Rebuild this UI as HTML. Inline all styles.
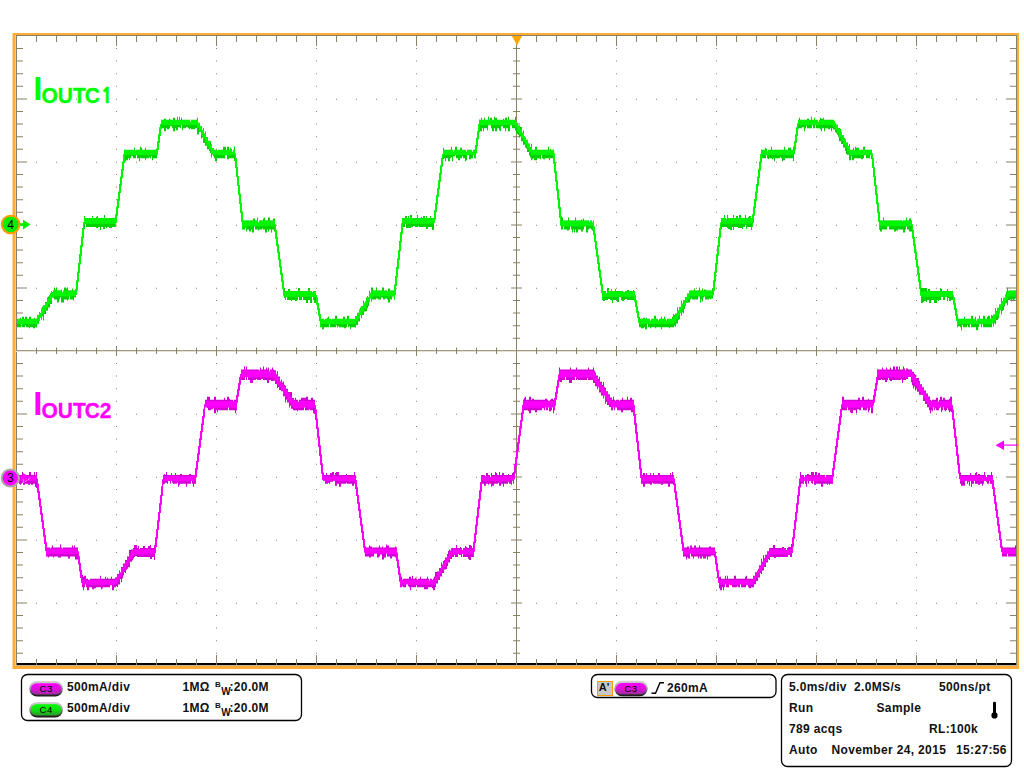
<!DOCTYPE html>
<html><head><meta charset="utf-8"><title>Oscilloscope</title>
<style>
html,body{margin:0;padding:0;background:#fff;width:1024px;height:768px;overflow:hidden}
svg{display:block}
text{font-family:"Liberation Sans",Arial,sans-serif}
.b{font-weight:bold;font-size:12px;fill:#111;letter-spacing:0.35px}
</style></head><body>
<svg width="1024" height="768" viewBox="0 0 1024 768">
<defs>
<linearGradient id="ring" x1="0" y1="0" x2="0" y2="1">
<stop offset="0" stop-color="#d8d8d8"/><stop offset="0.45" stop-color="#9a9a9a"/><stop offset="1" stop-color="#111"/>
</linearGradient>
<linearGradient id="mg" x1="0" y1="0" x2="0" y2="1">
<stop offset="0" stop-color="#ff00ff"/><stop offset="0.5" stop-color="#e010e0"/><stop offset="1" stop-color="#a02aa0"/>
</linearGradient>
<linearGradient id="gg" x1="0" y1="0" x2="0" y2="1">
<stop offset="0" stop-color="#00ff00"/><stop offset="0.5" stop-color="#10e010"/><stop offset="1" stop-color="#2a9a2a"/>
</linearGradient>
</defs>
<rect width="1024" height="768" fill="#fff"/>
<!-- orange frame -->
<g fill="#ffab38">
<rect x="12" y="33" width="1007" height="2"/>
<rect x="12" y="33" width="4" height="636"/>
<rect x="1017" y="33" width="2" height="636"/>
<rect x="12" y="666" width="1007" height="3"/>
</g>
<rect x="12" y="33" width="1" height="636" fill="#ffd699"/>
<rect x="15" y="35" width="1" height="631" fill="#ffc87a"/>
<!-- black bottom strip -->
<rect x="17" y="663" width="999" height="2" fill="#000"/>
<!-- graticule -->
<g fill="#8a8266">
<rect x="16" y="35" width="1001" height="1"/>
<rect x="16" y="35" width="1" height="631"/>
<rect x="1016" y="35" width="1" height="631"/>
<rect x="16" y="665" width="1001" height="1" fill="#c9b48e"/>
<rect x="16" y="350" width="1000" height="1" fill="#a49b84"/>
<rect x="16" y="351" width="1000" height="1" fill="#e4e0d6"/>
<rect x="516" y="35" width="1" height="630"/>
<path d="M36 98.7h1v1h-1zM56 98.7h1v1h-1zM76 98.7h1v1h-1zM96 98.7h1v1h-1zM116 98.7h1v1h-1zM136 98.7h1v1h-1zM156 98.7h1v1h-1zM176 98.7h1v1h-1zM196 98.7h1v1h-1zM216 98.7h1v1h-1zM236 98.7h1v1h-1zM256 98.7h1v1h-1zM276 98.7h1v1h-1zM296 98.7h1v1h-1zM316 98.7h1v1h-1zM336 98.7h1v1h-1zM356 98.7h1v1h-1zM376 98.7h1v1h-1zM396 98.7h1v1h-1zM416 98.7h1v1h-1zM436 98.7h1v1h-1zM456 98.7h1v1h-1zM476 98.7h1v1h-1zM496 98.7h1v1h-1zM516 98.7h1v1h-1zM536 98.7h1v1h-1zM556 98.7h1v1h-1zM576 98.7h1v1h-1zM596 98.7h1v1h-1zM616 98.7h1v1h-1zM636 98.7h1v1h-1zM656 98.7h1v1h-1zM676 98.7h1v1h-1zM696 98.7h1v1h-1zM716 98.7h1v1h-1zM736 98.7h1v1h-1zM756 98.7h1v1h-1zM776 98.7h1v1h-1zM796 98.7h1v1h-1zM816 98.7h1v1h-1zM836 98.7h1v1h-1zM856 98.7h1v1h-1zM876 98.7h1v1h-1zM896 98.7h1v1h-1zM916 98.7h1v1h-1zM936 98.7h1v1h-1zM956 98.7h1v1h-1zM976 98.7h1v1h-1zM996 98.7h1v1h-1zM36 161.7h1v1h-1zM56 161.7h1v1h-1zM76 161.7h1v1h-1zM96 161.7h1v1h-1zM116 161.7h1v1h-1zM136 161.7h1v1h-1zM156 161.7h1v1h-1zM176 161.7h1v1h-1zM196 161.7h1v1h-1zM216 161.7h1v1h-1zM236 161.7h1v1h-1zM256 161.7h1v1h-1zM276 161.7h1v1h-1zM296 161.7h1v1h-1zM316 161.7h1v1h-1zM336 161.7h1v1h-1zM356 161.7h1v1h-1zM376 161.7h1v1h-1zM396 161.7h1v1h-1zM416 161.7h1v1h-1zM436 161.7h1v1h-1zM456 161.7h1v1h-1zM476 161.7h1v1h-1zM496 161.7h1v1h-1zM516 161.7h1v1h-1zM536 161.7h1v1h-1zM556 161.7h1v1h-1zM576 161.7h1v1h-1zM596 161.7h1v1h-1zM616 161.7h1v1h-1zM636 161.7h1v1h-1zM656 161.7h1v1h-1zM676 161.7h1v1h-1zM696 161.7h1v1h-1zM716 161.7h1v1h-1zM736 161.7h1v1h-1zM756 161.7h1v1h-1zM776 161.7h1v1h-1zM796 161.7h1v1h-1zM816 161.7h1v1h-1zM836 161.7h1v1h-1zM856 161.7h1v1h-1zM876 161.7h1v1h-1zM896 161.7h1v1h-1zM916 161.7h1v1h-1zM936 161.7h1v1h-1zM956 161.7h1v1h-1zM976 161.7h1v1h-1zM996 161.7h1v1h-1zM36 224.7h1v1h-1zM56 224.7h1v1h-1zM76 224.7h1v1h-1zM96 224.7h1v1h-1zM116 224.7h1v1h-1zM136 224.7h1v1h-1zM156 224.7h1v1h-1zM176 224.7h1v1h-1zM196 224.7h1v1h-1zM216 224.7h1v1h-1zM236 224.7h1v1h-1zM256 224.7h1v1h-1zM276 224.7h1v1h-1zM296 224.7h1v1h-1zM316 224.7h1v1h-1zM336 224.7h1v1h-1zM356 224.7h1v1h-1zM376 224.7h1v1h-1zM396 224.7h1v1h-1zM416 224.7h1v1h-1zM436 224.7h1v1h-1zM456 224.7h1v1h-1zM476 224.7h1v1h-1zM496 224.7h1v1h-1zM516 224.7h1v1h-1zM536 224.7h1v1h-1zM556 224.7h1v1h-1zM576 224.7h1v1h-1zM596 224.7h1v1h-1zM616 224.7h1v1h-1zM636 224.7h1v1h-1zM656 224.7h1v1h-1zM676 224.7h1v1h-1zM696 224.7h1v1h-1zM716 224.7h1v1h-1zM736 224.7h1v1h-1zM756 224.7h1v1h-1zM776 224.7h1v1h-1zM796 224.7h1v1h-1zM816 224.7h1v1h-1zM836 224.7h1v1h-1zM856 224.7h1v1h-1zM876 224.7h1v1h-1zM896 224.7h1v1h-1zM916 224.7h1v1h-1zM936 224.7h1v1h-1zM956 224.7h1v1h-1zM976 224.7h1v1h-1zM996 224.7h1v1h-1zM36 287.7h1v1h-1zM56 287.7h1v1h-1zM76 287.7h1v1h-1zM96 287.7h1v1h-1zM116 287.7h1v1h-1zM136 287.7h1v1h-1zM156 287.7h1v1h-1zM176 287.7h1v1h-1zM196 287.7h1v1h-1zM216 287.7h1v1h-1zM236 287.7h1v1h-1zM256 287.7h1v1h-1zM276 287.7h1v1h-1zM296 287.7h1v1h-1zM316 287.7h1v1h-1zM336 287.7h1v1h-1zM356 287.7h1v1h-1zM376 287.7h1v1h-1zM396 287.7h1v1h-1zM416 287.7h1v1h-1zM436 287.7h1v1h-1zM456 287.7h1v1h-1zM476 287.7h1v1h-1zM496 287.7h1v1h-1zM516 287.7h1v1h-1zM536 287.7h1v1h-1zM556 287.7h1v1h-1zM576 287.7h1v1h-1zM596 287.7h1v1h-1zM616 287.7h1v1h-1zM636 287.7h1v1h-1zM656 287.7h1v1h-1zM676 287.7h1v1h-1zM696 287.7h1v1h-1zM716 287.7h1v1h-1zM736 287.7h1v1h-1zM756 287.7h1v1h-1zM776 287.7h1v1h-1zM796 287.7h1v1h-1zM816 287.7h1v1h-1zM836 287.7h1v1h-1zM856 287.7h1v1h-1zM876 287.7h1v1h-1zM896 287.7h1v1h-1zM916 287.7h1v1h-1zM936 287.7h1v1h-1zM956 287.7h1v1h-1zM976 287.7h1v1h-1zM996 287.7h1v1h-1zM36 413.7h1v1h-1zM56 413.7h1v1h-1zM76 413.7h1v1h-1zM96 413.7h1v1h-1zM116 413.7h1v1h-1zM136 413.7h1v1h-1zM156 413.7h1v1h-1zM176 413.7h1v1h-1zM196 413.7h1v1h-1zM216 413.7h1v1h-1zM236 413.7h1v1h-1zM256 413.7h1v1h-1zM276 413.7h1v1h-1zM296 413.7h1v1h-1zM316 413.7h1v1h-1zM336 413.7h1v1h-1zM356 413.7h1v1h-1zM376 413.7h1v1h-1zM396 413.7h1v1h-1zM416 413.7h1v1h-1zM436 413.7h1v1h-1zM456 413.7h1v1h-1zM476 413.7h1v1h-1zM496 413.7h1v1h-1zM516 413.7h1v1h-1zM536 413.7h1v1h-1zM556 413.7h1v1h-1zM576 413.7h1v1h-1zM596 413.7h1v1h-1zM616 413.7h1v1h-1zM636 413.7h1v1h-1zM656 413.7h1v1h-1zM676 413.7h1v1h-1zM696 413.7h1v1h-1zM716 413.7h1v1h-1zM736 413.7h1v1h-1zM756 413.7h1v1h-1zM776 413.7h1v1h-1zM796 413.7h1v1h-1zM816 413.7h1v1h-1zM836 413.7h1v1h-1zM856 413.7h1v1h-1zM876 413.7h1v1h-1zM896 413.7h1v1h-1zM916 413.7h1v1h-1zM936 413.7h1v1h-1zM956 413.7h1v1h-1zM976 413.7h1v1h-1zM996 413.7h1v1h-1zM36 476.7h1v1h-1zM56 476.7h1v1h-1zM76 476.7h1v1h-1zM96 476.7h1v1h-1zM116 476.7h1v1h-1zM136 476.7h1v1h-1zM156 476.7h1v1h-1zM176 476.7h1v1h-1zM196 476.7h1v1h-1zM216 476.7h1v1h-1zM236 476.7h1v1h-1zM256 476.7h1v1h-1zM276 476.7h1v1h-1zM296 476.7h1v1h-1zM316 476.7h1v1h-1zM336 476.7h1v1h-1zM356 476.7h1v1h-1zM376 476.7h1v1h-1zM396 476.7h1v1h-1zM416 476.7h1v1h-1zM436 476.7h1v1h-1zM456 476.7h1v1h-1zM476 476.7h1v1h-1zM496 476.7h1v1h-1zM516 476.7h1v1h-1zM536 476.7h1v1h-1zM556 476.7h1v1h-1zM576 476.7h1v1h-1zM596 476.7h1v1h-1zM616 476.7h1v1h-1zM636 476.7h1v1h-1zM656 476.7h1v1h-1zM676 476.7h1v1h-1zM696 476.7h1v1h-1zM716 476.7h1v1h-1zM736 476.7h1v1h-1zM756 476.7h1v1h-1zM776 476.7h1v1h-1zM796 476.7h1v1h-1zM816 476.7h1v1h-1zM836 476.7h1v1h-1zM856 476.7h1v1h-1zM876 476.7h1v1h-1zM896 476.7h1v1h-1zM916 476.7h1v1h-1zM936 476.7h1v1h-1zM956 476.7h1v1h-1zM976 476.7h1v1h-1zM996 476.7h1v1h-1zM36 539.7h1v1h-1zM56 539.7h1v1h-1zM76 539.7h1v1h-1zM96 539.7h1v1h-1zM116 539.7h1v1h-1zM136 539.7h1v1h-1zM156 539.7h1v1h-1zM176 539.7h1v1h-1zM196 539.7h1v1h-1zM216 539.7h1v1h-1zM236 539.7h1v1h-1zM256 539.7h1v1h-1zM276 539.7h1v1h-1zM296 539.7h1v1h-1zM316 539.7h1v1h-1zM336 539.7h1v1h-1zM356 539.7h1v1h-1zM376 539.7h1v1h-1zM396 539.7h1v1h-1zM416 539.7h1v1h-1zM436 539.7h1v1h-1zM456 539.7h1v1h-1zM476 539.7h1v1h-1zM496 539.7h1v1h-1zM516 539.7h1v1h-1zM536 539.7h1v1h-1zM556 539.7h1v1h-1zM576 539.7h1v1h-1zM596 539.7h1v1h-1zM616 539.7h1v1h-1zM636 539.7h1v1h-1zM656 539.7h1v1h-1zM676 539.7h1v1h-1zM696 539.7h1v1h-1zM716 539.7h1v1h-1zM736 539.7h1v1h-1zM756 539.7h1v1h-1zM776 539.7h1v1h-1zM796 539.7h1v1h-1zM816 539.7h1v1h-1zM836 539.7h1v1h-1zM856 539.7h1v1h-1zM876 539.7h1v1h-1zM896 539.7h1v1h-1zM916 539.7h1v1h-1zM936 539.7h1v1h-1zM956 539.7h1v1h-1zM976 539.7h1v1h-1zM996 539.7h1v1h-1zM36 602.7h1v1h-1zM56 602.7h1v1h-1zM76 602.7h1v1h-1zM96 602.7h1v1h-1zM116 602.7h1v1h-1zM136 602.7h1v1h-1zM156 602.7h1v1h-1zM176 602.7h1v1h-1zM196 602.7h1v1h-1zM216 602.7h1v1h-1zM236 602.7h1v1h-1zM256 602.7h1v1h-1zM276 602.7h1v1h-1zM296 602.7h1v1h-1zM316 602.7h1v1h-1zM336 602.7h1v1h-1zM356 602.7h1v1h-1zM376 602.7h1v1h-1zM396 602.7h1v1h-1zM416 602.7h1v1h-1zM436 602.7h1v1h-1zM456 602.7h1v1h-1zM476 602.7h1v1h-1zM496 602.7h1v1h-1zM516 602.7h1v1h-1zM536 602.7h1v1h-1zM556 602.7h1v1h-1zM576 602.7h1v1h-1zM596 602.7h1v1h-1zM616 602.7h1v1h-1zM636 602.7h1v1h-1zM656 602.7h1v1h-1zM676 602.7h1v1h-1zM696 602.7h1v1h-1zM716 602.7h1v1h-1zM736 602.7h1v1h-1zM756 602.7h1v1h-1zM776 602.7h1v1h-1zM796 602.7h1v1h-1zM816 602.7h1v1h-1zM836 602.7h1v1h-1zM856 602.7h1v1h-1zM876 602.7h1v1h-1zM896 602.7h1v1h-1zM916 602.7h1v1h-1zM936 602.7h1v1h-1zM956 602.7h1v1h-1zM976 602.7h1v1h-1zM996 602.7h1v1h-1zM116 48h1v1h-1zM116 60.6h1v1h-1zM116 73.2h1v1h-1zM116 85.8h1v1h-1zM116 111h1v1h-1zM116 123.6h1v1h-1zM116 136.2h1v1h-1zM116 148.8h1v1h-1zM116 174h1v1h-1zM116 186.6h1v1h-1zM116 199.2h1v1h-1zM116 211.8h1v1h-1zM116 237h1v1h-1zM116 249.6h1v1h-1zM116 262.2h1v1h-1zM116 274.8h1v1h-1zM116 300h1v1h-1zM116 312.6h1v1h-1zM116 325.2h1v1h-1zM116 337.8h1v1h-1zM116 363h1v1h-1zM116 375.6h1v1h-1zM116 388.2h1v1h-1zM116 400.8h1v1h-1zM116 426h1v1h-1zM116 438.6h1v1h-1zM116 451.2h1v1h-1zM116 463.8h1v1h-1zM116 489h1v1h-1zM116 501.6h1v1h-1zM116 514.2h1v1h-1zM116 526.8h1v1h-1zM116 552h1v1h-1zM116 564.6h1v1h-1zM116 577.2h1v1h-1zM116 589.8h1v1h-1zM116 615h1v1h-1zM116 627.6h1v1h-1zM116 640.2h1v1h-1zM116 652.8h1v1h-1zM216 48h1v1h-1zM216 60.6h1v1h-1zM216 73.2h1v1h-1zM216 85.8h1v1h-1zM216 111h1v1h-1zM216 123.6h1v1h-1zM216 136.2h1v1h-1zM216 148.8h1v1h-1zM216 174h1v1h-1zM216 186.6h1v1h-1zM216 199.2h1v1h-1zM216 211.8h1v1h-1zM216 237h1v1h-1zM216 249.6h1v1h-1zM216 262.2h1v1h-1zM216 274.8h1v1h-1zM216 300h1v1h-1zM216 312.6h1v1h-1zM216 325.2h1v1h-1zM216 337.8h1v1h-1zM216 363h1v1h-1zM216 375.6h1v1h-1zM216 388.2h1v1h-1zM216 400.8h1v1h-1zM216 426h1v1h-1zM216 438.6h1v1h-1zM216 451.2h1v1h-1zM216 463.8h1v1h-1zM216 489h1v1h-1zM216 501.6h1v1h-1zM216 514.2h1v1h-1zM216 526.8h1v1h-1zM216 552h1v1h-1zM216 564.6h1v1h-1zM216 577.2h1v1h-1zM216 589.8h1v1h-1zM216 615h1v1h-1zM216 627.6h1v1h-1zM216 640.2h1v1h-1zM216 652.8h1v1h-1zM316 48h1v1h-1zM316 60.6h1v1h-1zM316 73.2h1v1h-1zM316 85.8h1v1h-1zM316 111h1v1h-1zM316 123.6h1v1h-1zM316 136.2h1v1h-1zM316 148.8h1v1h-1zM316 174h1v1h-1zM316 186.6h1v1h-1zM316 199.2h1v1h-1zM316 211.8h1v1h-1zM316 237h1v1h-1zM316 249.6h1v1h-1zM316 262.2h1v1h-1zM316 274.8h1v1h-1zM316 300h1v1h-1zM316 312.6h1v1h-1zM316 325.2h1v1h-1zM316 337.8h1v1h-1zM316 363h1v1h-1zM316 375.6h1v1h-1zM316 388.2h1v1h-1zM316 400.8h1v1h-1zM316 426h1v1h-1zM316 438.6h1v1h-1zM316 451.2h1v1h-1zM316 463.8h1v1h-1zM316 489h1v1h-1zM316 501.6h1v1h-1zM316 514.2h1v1h-1zM316 526.8h1v1h-1zM316 552h1v1h-1zM316 564.6h1v1h-1zM316 577.2h1v1h-1zM316 589.8h1v1h-1zM316 615h1v1h-1zM316 627.6h1v1h-1zM316 640.2h1v1h-1zM316 652.8h1v1h-1zM416 48h1v1h-1zM416 60.6h1v1h-1zM416 73.2h1v1h-1zM416 85.8h1v1h-1zM416 111h1v1h-1zM416 123.6h1v1h-1zM416 136.2h1v1h-1zM416 148.8h1v1h-1zM416 174h1v1h-1zM416 186.6h1v1h-1zM416 199.2h1v1h-1zM416 211.8h1v1h-1zM416 237h1v1h-1zM416 249.6h1v1h-1zM416 262.2h1v1h-1zM416 274.8h1v1h-1zM416 300h1v1h-1zM416 312.6h1v1h-1zM416 325.2h1v1h-1zM416 337.8h1v1h-1zM416 363h1v1h-1zM416 375.6h1v1h-1zM416 388.2h1v1h-1zM416 400.8h1v1h-1zM416 426h1v1h-1zM416 438.6h1v1h-1zM416 451.2h1v1h-1zM416 463.8h1v1h-1zM416 489h1v1h-1zM416 501.6h1v1h-1zM416 514.2h1v1h-1zM416 526.8h1v1h-1zM416 552h1v1h-1zM416 564.6h1v1h-1zM416 577.2h1v1h-1zM416 589.8h1v1h-1zM416 615h1v1h-1zM416 627.6h1v1h-1zM416 640.2h1v1h-1zM416 652.8h1v1h-1zM616 48h1v1h-1zM616 60.6h1v1h-1zM616 73.2h1v1h-1zM616 85.8h1v1h-1zM616 111h1v1h-1zM616 123.6h1v1h-1zM616 136.2h1v1h-1zM616 148.8h1v1h-1zM616 174h1v1h-1zM616 186.6h1v1h-1zM616 199.2h1v1h-1zM616 211.8h1v1h-1zM616 237h1v1h-1zM616 249.6h1v1h-1zM616 262.2h1v1h-1zM616 274.8h1v1h-1zM616 300h1v1h-1zM616 312.6h1v1h-1zM616 325.2h1v1h-1zM616 337.8h1v1h-1zM616 363h1v1h-1zM616 375.6h1v1h-1zM616 388.2h1v1h-1zM616 400.8h1v1h-1zM616 426h1v1h-1zM616 438.6h1v1h-1zM616 451.2h1v1h-1zM616 463.8h1v1h-1zM616 489h1v1h-1zM616 501.6h1v1h-1zM616 514.2h1v1h-1zM616 526.8h1v1h-1zM616 552h1v1h-1zM616 564.6h1v1h-1zM616 577.2h1v1h-1zM616 589.8h1v1h-1zM616 615h1v1h-1zM616 627.6h1v1h-1zM616 640.2h1v1h-1zM616 652.8h1v1h-1zM716 48h1v1h-1zM716 60.6h1v1h-1zM716 73.2h1v1h-1zM716 85.8h1v1h-1zM716 111h1v1h-1zM716 123.6h1v1h-1zM716 136.2h1v1h-1zM716 148.8h1v1h-1zM716 174h1v1h-1zM716 186.6h1v1h-1zM716 199.2h1v1h-1zM716 211.8h1v1h-1zM716 237h1v1h-1zM716 249.6h1v1h-1zM716 262.2h1v1h-1zM716 274.8h1v1h-1zM716 300h1v1h-1zM716 312.6h1v1h-1zM716 325.2h1v1h-1zM716 337.8h1v1h-1zM716 363h1v1h-1zM716 375.6h1v1h-1zM716 388.2h1v1h-1zM716 400.8h1v1h-1zM716 426h1v1h-1zM716 438.6h1v1h-1zM716 451.2h1v1h-1zM716 463.8h1v1h-1zM716 489h1v1h-1zM716 501.6h1v1h-1zM716 514.2h1v1h-1zM716 526.8h1v1h-1zM716 552h1v1h-1zM716 564.6h1v1h-1zM716 577.2h1v1h-1zM716 589.8h1v1h-1zM716 615h1v1h-1zM716 627.6h1v1h-1zM716 640.2h1v1h-1zM716 652.8h1v1h-1zM816 48h1v1h-1zM816 60.6h1v1h-1zM816 73.2h1v1h-1zM816 85.8h1v1h-1zM816 111h1v1h-1zM816 123.6h1v1h-1zM816 136.2h1v1h-1zM816 148.8h1v1h-1zM816 174h1v1h-1zM816 186.6h1v1h-1zM816 199.2h1v1h-1zM816 211.8h1v1h-1zM816 237h1v1h-1zM816 249.6h1v1h-1zM816 262.2h1v1h-1zM816 274.8h1v1h-1zM816 300h1v1h-1zM816 312.6h1v1h-1zM816 325.2h1v1h-1zM816 337.8h1v1h-1zM816 363h1v1h-1zM816 375.6h1v1h-1zM816 388.2h1v1h-1zM816 400.8h1v1h-1zM816 426h1v1h-1zM816 438.6h1v1h-1zM816 451.2h1v1h-1zM816 463.8h1v1h-1zM816 489h1v1h-1zM816 501.6h1v1h-1zM816 514.2h1v1h-1zM816 526.8h1v1h-1zM816 552h1v1h-1zM816 564.6h1v1h-1zM816 577.2h1v1h-1zM816 589.8h1v1h-1zM816 615h1v1h-1zM816 627.6h1v1h-1zM816 640.2h1v1h-1zM816 652.8h1v1h-1zM916 48h1v1h-1zM916 60.6h1v1h-1zM916 73.2h1v1h-1zM916 85.8h1v1h-1zM916 111h1v1h-1zM916 123.6h1v1h-1zM916 136.2h1v1h-1zM916 148.8h1v1h-1zM916 174h1v1h-1zM916 186.6h1v1h-1zM916 199.2h1v1h-1zM916 211.8h1v1h-1zM916 237h1v1h-1zM916 249.6h1v1h-1zM916 262.2h1v1h-1zM916 274.8h1v1h-1zM916 300h1v1h-1zM916 312.6h1v1h-1zM916 325.2h1v1h-1zM916 337.8h1v1h-1zM916 363h1v1h-1zM916 375.6h1v1h-1zM916 388.2h1v1h-1zM916 400.8h1v1h-1zM916 426h1v1h-1zM916 438.6h1v1h-1zM916 451.2h1v1h-1zM916 463.8h1v1h-1zM916 489h1v1h-1zM916 501.6h1v1h-1zM916 514.2h1v1h-1zM916 526.8h1v1h-1zM916 552h1v1h-1zM916 564.6h1v1h-1zM916 577.2h1v1h-1zM916 589.8h1v1h-1zM916 615h1v1h-1zM916 627.6h1v1h-1zM916 640.2h1v1h-1zM916 652.8h1v1h-1zM36 36h1v6h-1zM36 659h1v6h-1zM36 347.5h1v6.5h-1zM56 36h1v6h-1zM56 659h1v6h-1zM56 347.5h1v6.5h-1zM76 36h1v6h-1zM76 659h1v6h-1zM76 347.5h1v6.5h-1zM96 36h1v6h-1zM96 659h1v6h-1zM96 347.5h1v6.5h-1zM116 36h1v10h-1zM116 655h1v10h-1zM116 346h1v10h-1zM136 36h1v6h-1zM136 659h1v6h-1zM136 347.5h1v6.5h-1zM156 36h1v6h-1zM156 659h1v6h-1zM156 347.5h1v6.5h-1zM176 36h1v6h-1zM176 659h1v6h-1zM176 347.5h1v6.5h-1zM196 36h1v6h-1zM196 659h1v6h-1zM196 347.5h1v6.5h-1zM216 36h1v10h-1zM216 655h1v10h-1zM216 346h1v10h-1zM236 36h1v6h-1zM236 659h1v6h-1zM236 347.5h1v6.5h-1zM256 36h1v6h-1zM256 659h1v6h-1zM256 347.5h1v6.5h-1zM276 36h1v6h-1zM276 659h1v6h-1zM276 347.5h1v6.5h-1zM296 36h1v6h-1zM296 659h1v6h-1zM296 347.5h1v6.5h-1zM316 36h1v10h-1zM316 655h1v10h-1zM316 346h1v10h-1zM336 36h1v6h-1zM336 659h1v6h-1zM336 347.5h1v6.5h-1zM356 36h1v6h-1zM356 659h1v6h-1zM356 347.5h1v6.5h-1zM376 36h1v6h-1zM376 659h1v6h-1zM376 347.5h1v6.5h-1zM396 36h1v6h-1zM396 659h1v6h-1zM396 347.5h1v6.5h-1zM416 36h1v10h-1zM416 655h1v10h-1zM416 346h1v10h-1zM436 36h1v6h-1zM436 659h1v6h-1zM436 347.5h1v6.5h-1zM456 36h1v6h-1zM456 659h1v6h-1zM456 347.5h1v6.5h-1zM476 36h1v6h-1zM476 659h1v6h-1zM476 347.5h1v6.5h-1zM496 36h1v6h-1zM496 659h1v6h-1zM496 347.5h1v6.5h-1zM536 36h1v6h-1zM536 659h1v6h-1zM536 347.5h1v6.5h-1zM556 36h1v6h-1zM556 659h1v6h-1zM556 347.5h1v6.5h-1zM576 36h1v6h-1zM576 659h1v6h-1zM576 347.5h1v6.5h-1zM596 36h1v6h-1zM596 659h1v6h-1zM596 347.5h1v6.5h-1zM616 36h1v10h-1zM616 655h1v10h-1zM616 346h1v10h-1zM636 36h1v6h-1zM636 659h1v6h-1zM636 347.5h1v6.5h-1zM656 36h1v6h-1zM656 659h1v6h-1zM656 347.5h1v6.5h-1zM676 36h1v6h-1zM676 659h1v6h-1zM676 347.5h1v6.5h-1zM696 36h1v6h-1zM696 659h1v6h-1zM696 347.5h1v6.5h-1zM716 36h1v10h-1zM716 655h1v10h-1zM716 346h1v10h-1zM736 36h1v6h-1zM736 659h1v6h-1zM736 347.5h1v6.5h-1zM756 36h1v6h-1zM756 659h1v6h-1zM756 347.5h1v6.5h-1zM776 36h1v6h-1zM776 659h1v6h-1zM776 347.5h1v6.5h-1zM796 36h1v6h-1zM796 659h1v6h-1zM796 347.5h1v6.5h-1zM816 36h1v10h-1zM816 655h1v10h-1zM816 346h1v10h-1zM836 36h1v6h-1zM836 659h1v6h-1zM836 347.5h1v6.5h-1zM856 36h1v6h-1zM856 659h1v6h-1zM856 347.5h1v6.5h-1zM876 36h1v6h-1zM876 659h1v6h-1zM876 347.5h1v6.5h-1zM896 36h1v6h-1zM896 659h1v6h-1zM896 347.5h1v6.5h-1zM916 36h1v10h-1zM916 655h1v10h-1zM916 346h1v10h-1zM936 36h1v6h-1zM936 659h1v6h-1zM936 347.5h1v6.5h-1zM956 36h1v6h-1zM956 659h1v6h-1zM956 347.5h1v6.5h-1zM976 36h1v6h-1zM976 659h1v6h-1zM976 347.5h1v6.5h-1zM996 36h1v6h-1zM996 659h1v6h-1zM996 347.5h1v6.5h-1zM17 48h6v1h-6zM1010 48h6v1h-6zM513 48h7v1h-7zM17 60.6h6v1h-6zM1010 60.6h6v1h-6zM513 60.6h7v1h-7zM17 73.2h6v1h-6zM1010 73.2h6v1h-6zM513 73.2h7v1h-7zM17 85.8h6v1h-6zM1010 85.8h6v1h-6zM513 85.8h7v1h-7zM17 98.4h10v1h-10zM1006 98.4h10v1h-10zM511 98.4h11v1h-11zM17 111h6v1h-6zM1010 111h6v1h-6zM513 111h7v1h-7zM17 123.6h6v1h-6zM1010 123.6h6v1h-6zM513 123.6h7v1h-7zM17 136.2h6v1h-6zM1010 136.2h6v1h-6zM513 136.2h7v1h-7zM17 148.8h6v1h-6zM1010 148.8h6v1h-6zM513 148.8h7v1h-7zM17 161.4h10v1h-10zM1006 161.4h10v1h-10zM511 161.4h11v1h-11zM17 174h6v1h-6zM1010 174h6v1h-6zM513 174h7v1h-7zM17 186.6h6v1h-6zM1010 186.6h6v1h-6zM513 186.6h7v1h-7zM17 199.2h6v1h-6zM1010 199.2h6v1h-6zM513 199.2h7v1h-7zM17 211.8h6v1h-6zM1010 211.8h6v1h-6zM513 211.8h7v1h-7zM17 224.4h10v1h-10zM1006 224.4h10v1h-10zM511 224.4h11v1h-11zM17 237h6v1h-6zM1010 237h6v1h-6zM513 237h7v1h-7zM17 249.6h6v1h-6zM1010 249.6h6v1h-6zM513 249.6h7v1h-7zM17 262.2h6v1h-6zM1010 262.2h6v1h-6zM513 262.2h7v1h-7zM17 274.8h6v1h-6zM1010 274.8h6v1h-6zM513 274.8h7v1h-7zM17 287.4h10v1h-10zM1006 287.4h10v1h-10zM511 287.4h11v1h-11zM17 300h6v1h-6zM1010 300h6v1h-6zM513 300h7v1h-7zM17 312.6h6v1h-6zM1010 312.6h6v1h-6zM513 312.6h7v1h-7zM17 325.2h6v1h-6zM1010 325.2h6v1h-6zM513 325.2h7v1h-7zM17 337.8h6v1h-6zM1010 337.8h6v1h-6zM513 337.8h7v1h-7zM17 363h6v1h-6zM1010 363h6v1h-6zM513 363h7v1h-7zM17 375.6h6v1h-6zM1010 375.6h6v1h-6zM513 375.6h7v1h-7zM17 388.2h6v1h-6zM1010 388.2h6v1h-6zM513 388.2h7v1h-7zM17 400.8h6v1h-6zM1010 400.8h6v1h-6zM513 400.8h7v1h-7zM17 413.4h10v1h-10zM1006 413.4h10v1h-10zM511 413.4h11v1h-11zM17 426h6v1h-6zM1010 426h6v1h-6zM513 426h7v1h-7zM17 438.6h6v1h-6zM1010 438.6h6v1h-6zM513 438.6h7v1h-7zM17 451.2h6v1h-6zM1010 451.2h6v1h-6zM513 451.2h7v1h-7zM17 463.8h6v1h-6zM1010 463.8h6v1h-6zM513 463.8h7v1h-7zM17 476.4h10v1h-10zM1006 476.4h10v1h-10zM511 476.4h11v1h-11zM17 489h6v1h-6zM1010 489h6v1h-6zM513 489h7v1h-7zM17 501.6h6v1h-6zM1010 501.6h6v1h-6zM513 501.6h7v1h-7zM17 514.2h6v1h-6zM1010 514.2h6v1h-6zM513 514.2h7v1h-7zM17 526.8h6v1h-6zM1010 526.8h6v1h-6zM513 526.8h7v1h-7zM17 539.4h10v1h-10zM1006 539.4h10v1h-10zM511 539.4h11v1h-11zM17 552h6v1h-6zM1010 552h6v1h-6zM513 552h7v1h-7zM17 564.6h6v1h-6zM1010 564.6h6v1h-6zM513 564.6h7v1h-7zM17 577.2h6v1h-6zM1010 577.2h6v1h-6zM513 577.2h7v1h-7zM17 589.8h6v1h-6zM1010 589.8h6v1h-6zM513 589.8h7v1h-7zM17 602.4h10v1h-10zM1006 602.4h10v1h-10zM511 602.4h11v1h-11zM17 615h6v1h-6zM1010 615h6v1h-6zM513 615h7v1h-7zM17 627.6h6v1h-6zM1010 627.6h6v1h-6zM513 627.6h7v1h-7zM17 640.2h6v1h-6zM1010 640.2h6v1h-6zM513 640.2h7v1h-7zM17 652.8h6v1h-6zM1010 652.8h6v1h-6zM513 652.8h7v1h-7z"/>
</g>
<!-- traces -->
<path fill="#00d200" d="M17 318.7h1V327.3h-1zM18 318.7h1V327.3h-1zM19 318.7h1V327.3h-1zM20 317.7h1V327.3h-1zM21 318.7h1V324.3h-1zM22 316.7h1V327.3h-1zM23 316.7h1V327.3h-1zM24 318.7h1V327.3h-1zM25 316.7h1V325.3h-1zM26 316.7h1V327.3h-1zM27 318.7h1V327.3h-1zM28 318.7h1V327.3h-1zM29 316.7h1V328.3h-1zM30 316.7h1V327.3h-1zM31 318.7h1V327.3h-1zM32 318.7h1V327.3h-1zM33 318.7h1V328.3h-1zM34 317.7h1V328.3h-1zM35 318.7h1V327.3h-1zM36 318.6h1V327.4h-1zM37 315.3h1V324.4h-1zM38 315.3h1V324.1h-1zM39 311.9h1V321.1h-1zM40 312.9h1V317.7h-1zM41 308.6h1V319.7h-1zM42 306.6h1V316.4h-1zM43 305.3h1V320.4h-1zM44 305.3h1V314.1h-1zM45 301.9h1V314.1h-1zM46 301.9h1V310.7h-1zM47 297.6h1V310.7h-1zM48 296.6h1V307.4h-1zM49 295.3h1V307.4h-1zM50 293.3h1V304.1h-1zM51 290.9h1V304.1h-1zM52 291.9h1V297.7h-1zM53 290.5h1V297.8h-1zM54 287.5h1V299.5h-1zM55 289.5h1V299.5h-1zM56 287.5h1V299.5h-1zM57 290.5h1V302.5h-1zM58 290.5h1V302.5h-1zM59 290.5h1V299.5h-1zM60 290.5h1V297.5h-1zM61 289.5h1V302.5h-1zM62 292.5h1V302.5h-1zM63 290.5h1V302.5h-1zM64 287.5h1V299.5h-1zM65 287.5h1V299.5h-1zM66 288.5h1V299.5h-1zM67 287.5h1V300.5h-1zM68 290.5h1V299.5h-1zM69 290.5h1V296.5h-1zM70 290.5h1V299.5h-1zM71 290.5h1V299.5h-1zM72 288.5h1V299.5h-1zM73 290.5h1V300.5h-1zM74 290.5h1V297.5h-1zM75 289.2h1V297.5h-1zM76 280.4h1V294.7h-1zM77 271.7h1V290.4h-1zM78 263.0h1V281.6h-1zM79 254.2h1V272.9h-1zM80 245.5h1V264.2h-1zM81 236.7h1V255.4h-1zM82 228.0h1V246.7h-1zM83 221.9h1V237.9h-1zM84 216.0h1V229.2h-1zM85 218.0h1V224.0h-1zM86 218.0h1V227.0h-1zM87 218.0h1V227.0h-1zM88 218.0h1V227.0h-1zM89 218.0h1V227.0h-1zM90 218.0h1V227.0h-1zM91 218.0h1V227.0h-1zM92 216.0h1V227.0h-1zM93 218.0h1V227.0h-1zM94 218.0h1V227.0h-1zM95 218.0h1V227.0h-1zM96 217.0h1V228.0h-1zM97 216.0h1V228.0h-1zM98 218.0h1V227.0h-1zM99 218.0h1V227.0h-1zM100 218.0h1V230.0h-1zM101 218.0h1V227.0h-1zM102 218.0h1V227.0h-1zM103 218.0h1V229.0h-1zM104 215.0h1V229.0h-1zM105 218.0h1V227.0h-1zM106 218.0h1V228.0h-1zM107 218.0h1V227.0h-1zM108 218.0h1V227.0h-1zM109 218.0h1V228.0h-1zM110 218.0h1V228.0h-1zM111 218.0h1V228.0h-1zM112 218.0h1V227.0h-1zM113 218.0h1V227.0h-1zM114 218.0h1V227.0h-1zM115 214.4h1V227.0h-1zM116 206.8h1V223.1h-1zM117 199.3h1V215.6h-1zM118 191.8h1V208.0h-1zM119 184.3h1V200.5h-1zM120 176.7h1V193.0h-1zM121 169.2h1V185.5h-1zM122 161.7h1V177.9h-1zM123 154.2h1V170.4h-1zM124 149.7h1V162.9h-1zM125 149.7h1V161.3h-1zM126 149.7h1V160.3h-1zM127 149.7h1V160.3h-1zM128 149.7h1V158.3h-1zM129 149.7h1V160.3h-1zM130 149.7h1V158.3h-1zM131 149.7h1V156.3h-1zM132 149.7h1V156.3h-1zM133 149.7h1V158.3h-1zM134 147.7h1V158.3h-1zM135 150.7h1V158.3h-1zM136 149.7h1V155.3h-1zM137 149.7h1V158.3h-1zM138 149.7h1V158.3h-1zM139 149.7h1V161.3h-1zM140 146.7h1V158.3h-1zM141 147.7h1V158.3h-1zM142 149.7h1V158.3h-1zM143 149.7h1V158.3h-1zM144 149.7h1V158.3h-1zM145 147.7h1V160.3h-1zM146 149.7h1V158.3h-1zM147 149.7h1V158.3h-1zM148 149.7h1V158.3h-1zM149 149.7h1V157.3h-1zM150 149.7h1V158.3h-1zM151 149.7h1V156.3h-1zM152 149.7h1V160.3h-1zM153 149.7h1V158.3h-1zM154 149.7h1V158.3h-1zM155 149.7h1V158.3h-1zM156 148.5h1V158.3h-1zM157 141.5h1V154.6h-1zM158 134.6h1V149.7h-1zM159 127.6h1V142.7h-1zM160 124.1h1V135.8h-1zM161 119.7h1V128.8h-1zM162 119.7h1V128.3h-1zM163 119.7h1V128.3h-1zM164 118.7h1V131.3h-1zM165 118.7h1V131.3h-1zM166 119.7h1V128.3h-1zM167 119.7h1V129.3h-1zM168 119.7h1V129.3h-1zM169 118.7h1V128.3h-1zM170 119.7h1V126.3h-1zM171 119.7h1V126.3h-1zM172 119.7h1V128.3h-1zM173 117.7h1V131.3h-1zM174 117.7h1V131.3h-1zM175 119.7h1V128.3h-1zM176 119.7h1V130.3h-1zM177 116.7h1V130.3h-1zM178 119.7h1V127.3h-1zM179 116.7h1V127.3h-1zM180 119.7h1V128.3h-1zM181 117.7h1V125.3h-1zM182 119.7h1V130.3h-1zM183 119.7h1V128.3h-1zM184 119.7h1V128.3h-1zM185 119.7h1V128.3h-1zM186 119.7h1V127.3h-1zM187 119.7h1V127.3h-1zM188 119.7h1V128.3h-1zM189 119.7h1V129.3h-1zM190 121.7h1V128.3h-1zM191 119.7h1V129.3h-1zM192 119.7h1V129.3h-1zM193 119.7h1V129.3h-1zM194 119.7h1V129.3h-1zM195 119.7h1V128.3h-1zM196 119.7h1V128.3h-1zM197 117.7h1V134.4h-1zM198 122.8h1V134.4h-1zM199 122.8h1V131.9h-1zM200 126.3h1V131.9h-1zM201 126.3h1V138.5h-1zM202 129.9h1V137.5h-1zM203 127.9h1V143.1h-1zM204 133.5h1V143.1h-1zM205 131.5h1V145.7h-1zM206 137.1h1V145.7h-1zM207 137.1h1V149.3h-1zM208 140.7h1V149.3h-1zM209 140.7h1V150.9h-1zM210 141.3h1V152.9h-1zM211 144.3h1V157.5h-1zM212 147.9h1V154.5h-1zM213 147.9h1V156.3h-1zM214 149.7h1V158.3h-1zM215 149.7h1V161.3h-1zM216 149.7h1V161.3h-1zM217 150.7h1V158.3h-1zM218 149.7h1V158.3h-1zM219 149.7h1V158.3h-1zM220 149.7h1V158.3h-1zM221 149.7h1V158.3h-1zM222 149.7h1V158.3h-1zM223 146.7h1V158.3h-1zM224 146.7h1V158.3h-1zM225 146.7h1V155.3h-1zM226 149.7h1V155.3h-1zM227 146.7h1V159.3h-1zM228 146.7h1V159.3h-1zM229 149.7h1V158.3h-1zM230 147.7h1V158.3h-1zM231 148.7h1V158.3h-1zM232 151.7h1V158.3h-1zM233 149.7h1V158.3h-1zM234 146.7h1V161.1h-1zM235 153.4h1V168.1h-1zM236 157.9h1V177.1h-1zM237 166.9h1V186.1h-1zM238 175.9h1V195.0h-1zM239 184.9h1V204.0h-1zM240 193.8h1V213.0h-1zM241 202.8h1V222.0h-1zM242 211.8h1V229.5h-1zM243 220.5h1V229.5h-1zM244 220.5h1V229.5h-1zM245 220.5h1V227.5h-1zM246 220.5h1V231.5h-1zM247 220.5h1V229.5h-1zM248 220.5h1V229.5h-1zM249 220.5h1V231.5h-1zM250 220.5h1V231.5h-1zM251 220.5h1V229.5h-1zM252 220.5h1V232.5h-1zM253 218.5h1V232.5h-1zM254 218.5h1V226.5h-1zM255 220.5h1V229.5h-1zM256 220.5h1V229.5h-1zM257 217.5h1V229.5h-1zM258 222.5h1V230.5h-1zM259 220.5h1V229.5h-1zM260 220.5h1V229.5h-1zM261 220.5h1V229.5h-1zM262 220.5h1V228.5h-1zM263 218.5h1V229.5h-1zM264 217.5h1V229.5h-1zM265 220.5h1V232.5h-1zM266 220.5h1V232.5h-1zM267 220.5h1V229.5h-1zM268 217.5h1V231.5h-1zM269 217.5h1V229.5h-1zM270 220.5h1V229.5h-1zM271 220.5h1V232.5h-1zM272 220.5h1V229.5h-1zM273 218.5h1V229.5h-1zM274 218.5h1V231.4h-1zM275 224.4h1V238.5h-1zM276 230.2h1V245.7h-1zM277 237.3h1V252.9h-1zM278 244.5h1V260.1h-1zM279 251.7h1V267.3h-1zM280 258.9h1V274.5h-1zM281 266.1h1V281.7h-1zM282 273.3h1V288.9h-1zM283 280.5h1V295.4h-1zM284 287.7h1V298.0h-1zM285 291.0h1V300.0h-1zM286 291.0h1V297.0h-1zM287 291.0h1V300.0h-1zM288 289.0h1V300.0h-1zM289 289.0h1V300.0h-1zM290 291.0h1V300.0h-1zM291 291.0h1V301.0h-1zM292 291.0h1V300.0h-1zM293 291.0h1V300.0h-1zM294 291.0h1V300.0h-1zM295 291.0h1V301.0h-1zM296 291.0h1V301.0h-1zM297 291.0h1V300.0h-1zM298 288.0h1V297.0h-1zM299 288.0h1V300.0h-1zM300 291.0h1V300.0h-1zM301 291.0h1V300.0h-1zM302 291.0h1V297.0h-1zM303 291.0h1V300.0h-1zM304 291.0h1V300.0h-1zM305 291.0h1V300.0h-1zM306 291.0h1V303.0h-1zM307 291.0h1V303.0h-1zM308 288.0h1V300.0h-1zM309 288.0h1V300.0h-1zM310 291.0h1V303.0h-1zM311 291.0h1V303.0h-1zM312 292.0h1V297.0h-1zM313 291.0h1V300.0h-1zM314 291.0h1V303.0h-1zM315 291.0h1V303.0h-1zM316 294.9h1V304.4h-1zM317 297.6h1V309.9h-1zM318 303.1h1V315.4h-1zM319 308.6h1V320.9h-1zM320 314.1h1V327.3h-1zM321 318.7h1V327.3h-1zM322 318.7h1V329.3h-1zM323 318.7h1V329.3h-1zM324 319.7h1V327.3h-1zM325 318.7h1V327.3h-1zM326 318.7h1V327.3h-1zM327 317.7h1V327.3h-1zM328 316.7h1V327.3h-1zM329 318.7h1V324.3h-1zM330 318.7h1V327.3h-1zM331 319.7h1V327.3h-1zM332 318.7h1V327.3h-1zM333 318.7h1V327.3h-1zM334 318.7h1V327.3h-1zM335 315.7h1V327.3h-1zM336 315.7h1V325.3h-1zM337 318.7h1V327.3h-1zM338 318.7h1V326.3h-1zM339 318.7h1V327.3h-1zM340 318.7h1V327.3h-1zM341 318.7h1V327.3h-1zM342 318.7h1V327.3h-1zM343 316.7h1V327.3h-1zM344 316.7h1V328.3h-1zM345 318.7h1V328.3h-1zM346 318.7h1V327.3h-1zM347 315.7h1V324.3h-1zM348 315.7h1V327.3h-1zM349 318.7h1V326.3h-1zM350 318.7h1V329.3h-1zM351 318.7h1V327.3h-1zM352 318.7h1V327.3h-1zM353 318.7h1V327.3h-1zM354 318.7h1V327.3h-1zM355 316.1h1V327.4h-1zM356 316.1h1V324.9h-1zM357 312.8h1V324.9h-1zM358 312.8h1V321.6h-1zM359 309.4h1V321.6h-1zM360 307.4h1V315.2h-1zM361 306.1h1V318.2h-1zM362 306.1h1V314.9h-1zM363 300.8h1V314.9h-1zM364 302.8h1V311.6h-1zM365 301.4h1V311.6h-1zM366 297.4h1V311.2h-1zM367 296.1h1V308.2h-1zM368 297.1h1V305.9h-1zM369 290.8h1V301.9h-1zM370 292.8h1V298.6h-1zM371 287.6h1V301.6h-1zM372 287.5h1V299.5h-1zM373 290.5h1V299.5h-1zM374 290.5h1V299.5h-1zM375 290.5h1V299.5h-1zM376 287.5h1V298.5h-1zM377 290.5h1V298.5h-1zM378 290.5h1V299.5h-1zM379 290.5h1V299.5h-1zM380 290.5h1V299.5h-1zM381 290.5h1V297.5h-1zM382 287.5h1V297.5h-1zM383 287.5h1V299.5h-1zM384 290.5h1V299.5h-1zM385 290.5h1V298.5h-1zM386 290.5h1V298.5h-1zM387 291.5h1V299.5h-1zM388 288.5h1V302.5h-1zM389 288.5h1V302.5h-1zM390 290.5h1V299.5h-1zM391 290.5h1V299.5h-1zM392 290.5h1V296.5h-1zM393 290.5h1V296.5h-1zM394 284.8h1V299.5h-1zM395 276.1h1V294.7h-1zM396 267.3h1V286.0h-1zM397 258.6h1V277.3h-1zM398 249.9h1V268.5h-1zM399 241.1h1V259.8h-1zM400 232.4h1V251.1h-1zM401 223.6h1V242.3h-1zM402 218.0h1V233.6h-1zM403 218.0h1V227.0h-1zM404 218.0h1V227.0h-1zM405 216.0h1V224.0h-1zM406 216.0h1V228.0h-1zM407 218.0h1V228.0h-1zM408 216.0h1V228.0h-1zM409 218.0h1V228.0h-1zM410 215.0h1V228.0h-1zM411 215.0h1V227.0h-1zM412 218.0h1V227.0h-1zM413 218.0h1V226.0h-1zM414 218.0h1V226.0h-1zM415 218.0h1V227.0h-1zM416 218.0h1V227.0h-1zM417 215.0h1V227.0h-1zM418 218.0h1V226.0h-1zM419 218.0h1V227.0h-1zM420 218.0h1V227.0h-1zM421 217.0h1V227.0h-1zM422 218.0h1V227.0h-1zM423 216.0h1V227.0h-1zM424 216.0h1V227.0h-1zM425 218.0h1V227.0h-1zM426 216.0h1V229.0h-1zM427 218.0h1V229.0h-1zM428 218.0h1V227.0h-1zM429 218.0h1V227.0h-1zM430 216.0h1V227.0h-1zM431 218.0h1V227.0h-1zM432 218.0h1V230.0h-1zM433 218.0h1V230.0h-1zM434 210.6h1V223.1h-1zM435 203.1h1V219.3h-1zM436 195.6h1V211.8h-1zM437 188.0h1V204.3h-1zM438 180.5h1V196.8h-1zM439 173.0h1V189.2h-1zM440 165.4h1V181.7h-1zM441 157.9h1V174.2h-1zM442 154.2h1V166.6h-1zM443 147.7h1V159.1h-1zM444 149.7h1V158.3h-1zM445 149.7h1V161.3h-1zM446 149.7h1V158.3h-1zM447 149.7h1V158.3h-1zM448 149.7h1V161.3h-1zM449 149.7h1V161.3h-1zM450 149.7h1V158.3h-1zM451 146.7h1V157.3h-1zM452 149.7h1V161.3h-1zM453 151.7h1V156.3h-1zM454 149.7h1V156.3h-1zM455 146.7h1V155.3h-1zM456 146.7h1V158.3h-1zM457 149.7h1V158.3h-1zM458 149.7h1V160.3h-1zM459 149.7h1V160.3h-1zM460 147.7h1V158.3h-1zM461 147.7h1V158.3h-1zM462 149.7h1V156.3h-1zM463 149.7h1V158.3h-1zM464 149.7h1V158.3h-1zM465 149.7h1V161.3h-1zM466 151.7h1V160.3h-1zM467 149.7h1V155.3h-1zM468 149.7h1V155.3h-1zM469 149.7h1V159.3h-1zM470 149.7h1V159.3h-1zM471 149.7h1V158.3h-1zM472 151.7h1V158.3h-1zM473 149.7h1V155.3h-1zM474 149.7h1V158.3h-1zM475 145.0h1V158.3h-1zM476 138.1h1V153.2h-1zM477 131.1h1V146.2h-1zM478 124.1h1V139.3h-1zM479 119.7h1V132.3h-1zM480 119.7h1V131.3h-1zM481 117.7h1V131.3h-1zM482 119.7h1V128.3h-1zM483 119.7h1V131.3h-1zM484 117.7h1V128.3h-1zM485 119.7h1V128.3h-1zM486 119.7h1V128.3h-1zM487 119.7h1V130.3h-1zM488 116.7h1V125.3h-1zM489 119.7h1V125.3h-1zM490 117.7h1V125.3h-1zM491 117.7h1V128.3h-1zM492 119.7h1V131.3h-1zM493 119.7h1V131.3h-1zM494 116.7h1V128.3h-1zM495 117.7h1V131.3h-1zM496 117.7h1V131.3h-1zM497 119.7h1V128.3h-1zM498 119.7h1V128.3h-1zM499 119.7h1V130.3h-1zM500 119.7h1V131.3h-1zM501 119.7h1V126.3h-1zM502 119.7h1V126.3h-1zM503 118.7h1V128.3h-1zM504 119.7h1V128.3h-1zM505 117.7h1V131.3h-1zM506 117.7h1V128.3h-1zM507 119.7h1V128.3h-1zM508 116.7h1V131.3h-1zM509 119.7h1V131.3h-1zM510 119.7h1V125.3h-1zM511 119.7h1V125.3h-1zM512 119.7h1V128.3h-1zM513 119.7h1V128.3h-1zM514 119.7h1V128.3h-1zM515 116.7h1V130.5h-1zM516 121.9h1V133.5h-1zM517 122.9h1V134.0h-1zM518 125.4h1V135.0h-1zM519 125.4h1V137.6h-1zM520 127.0h1V136.6h-1zM521 127.0h1V141.2h-1zM522 132.6h1V141.2h-1zM523 130.6h1V144.8h-1zM524 136.2h1V144.8h-1zM525 137.2h1V147.4h-1zM526 139.8h1V148.4h-1zM527 139.8h1V152.0h-1zM528 143.4h1V152.0h-1zM529 143.4h1V155.6h-1zM530 147.0h1V157.6h-1zM531 144.0h1V160.3h-1zM532 149.7h1V159.3h-1zM533 149.7h1V158.3h-1zM534 149.7h1V160.3h-1zM535 146.7h1V160.3h-1zM536 146.7h1V160.3h-1zM537 149.7h1V158.3h-1zM538 149.7h1V158.3h-1zM539 149.7h1V158.3h-1zM540 149.7h1V159.3h-1zM541 149.7h1V155.3h-1zM542 149.7h1V158.3h-1zM543 149.7h1V159.3h-1zM544 149.7h1V159.3h-1zM545 149.7h1V158.3h-1zM546 149.7h1V158.3h-1zM547 149.7h1V158.3h-1zM548 146.7h1V158.3h-1zM549 149.7h1V160.3h-1zM550 148.7h1V158.3h-1zM551 149.7h1V158.3h-1zM552 149.7h1V158.3h-1zM553 149.7h1V163.6h-1zM554 153.4h1V172.6h-1zM555 162.4h1V181.6h-1zM556 171.4h1V190.5h-1zM557 180.4h1V199.5h-1zM558 189.3h1V208.5h-1zM559 198.3h1V217.5h-1zM560 207.3h1V225.6h-1zM561 216.3h1V229.5h-1zM562 217.5h1V229.5h-1zM563 220.5h1V226.5h-1zM564 220.5h1V229.5h-1zM565 220.5h1V229.5h-1zM566 220.5h1V229.5h-1zM567 220.5h1V230.5h-1zM568 217.5h1V230.5h-1zM569 220.5h1V229.5h-1zM570 220.5h1V226.5h-1zM571 220.5h1V229.5h-1zM572 220.5h1V232.5h-1zM573 220.5h1V229.5h-1zM574 220.5h1V232.5h-1zM575 217.5h1V229.5h-1zM576 220.5h1V232.5h-1zM577 220.5h1V232.5h-1zM578 220.5h1V229.5h-1zM579 220.5h1V229.5h-1zM580 220.5h1V229.5h-1zM581 219.5h1V231.5h-1zM582 220.5h1V231.5h-1zM583 218.5h1V229.5h-1zM584 220.5h1V226.5h-1zM585 220.5h1V226.5h-1zM586 220.5h1V232.5h-1zM587 220.5h1V232.5h-1zM588 220.5h1V229.5h-1zM589 222.5h1V228.5h-1zM590 220.5h1V228.5h-1zM591 220.5h1V229.5h-1zM592 222.5h1V230.5h-1zM593 220.5h1V235.0h-1zM594 226.6h1V242.1h-1zM595 233.8h1V249.3h-1zM596 240.9h1V256.5h-1zM597 248.1h1V263.7h-1zM598 255.3h1V270.9h-1zM599 262.5h1V278.1h-1zM600 269.7h1V285.3h-1zM601 276.9h1V292.5h-1zM602 284.1h1V300.0h-1zM603 291.0h1V301.0h-1zM604 291.0h1V301.0h-1zM605 291.0h1V300.0h-1zM606 293.0h1V300.0h-1zM607 288.0h1V300.0h-1zM608 288.0h1V299.0h-1zM609 291.0h1V299.0h-1zM610 291.0h1V300.0h-1zM611 289.0h1V300.0h-1zM612 291.0h1V303.0h-1zM613 291.0h1V300.0h-1zM614 291.0h1V300.0h-1zM615 289.0h1V300.0h-1zM616 291.0h1V300.0h-1zM617 291.0h1V302.0h-1zM618 291.0h1V302.0h-1zM619 291.0h1V297.0h-1zM620 291.0h1V297.0h-1zM621 291.0h1V300.0h-1zM622 291.0h1V301.0h-1zM623 292.0h1V301.0h-1zM624 292.0h1V300.0h-1zM625 291.0h1V299.0h-1zM626 291.0h1V299.0h-1zM627 290.0h1V300.0h-1zM628 290.0h1V300.0h-1zM629 291.0h1V300.0h-1zM630 291.0h1V300.0h-1zM631 291.0h1V300.0h-1zM632 291.0h1V300.0h-1zM633 290.0h1V300.0h-1zM634 291.0h1V301.6h-1zM635 294.9h1V307.1h-1zM636 300.4h1V312.6h-1zM637 305.9h1V318.1h-1zM638 311.4h1V323.0h-1zM639 316.9h1V327.3h-1zM640 318.7h1V327.3h-1zM641 318.7h1V328.3h-1zM642 318.7h1V328.3h-1zM643 317.7h1V328.3h-1zM644 317.7h1V327.3h-1zM645 318.7h1V329.3h-1zM646 317.7h1V329.3h-1zM647 318.7h1V324.3h-1zM648 318.7h1V327.3h-1zM649 318.7h1V327.3h-1zM650 320.7h1V328.3h-1zM651 318.7h1V327.3h-1zM652 318.7h1V327.3h-1zM653 318.7h1V327.3h-1zM654 315.7h1V327.3h-1zM655 315.7h1V328.3h-1zM656 318.7h1V327.3h-1zM657 318.7h1V327.3h-1zM658 320.7h1V327.3h-1zM659 318.7h1V327.3h-1zM660 318.7h1V327.3h-1zM661 316.7h1V329.3h-1zM662 318.7h1V327.3h-1zM663 318.7h1V327.3h-1zM664 316.7h1V327.3h-1zM665 318.7h1V327.3h-1zM666 320.7h1V327.3h-1zM667 318.7h1V327.3h-1zM668 318.7h1V327.3h-1zM669 318.7h1V328.3h-1zM670 318.7h1V327.3h-1zM671 318.7h1V327.3h-1zM672 316.7h1V327.3h-1zM673 313.9h1V327.3h-1zM674 314.9h1V325.7h-1zM675 313.6h1V326.7h-1zM676 313.6h1V323.4h-1zM677 307.3h1V323.4h-1zM678 310.3h1V320.1h-1zM679 306.9h1V319.1h-1zM680 306.9h1V312.7h-1zM681 300.6h1V315.7h-1zM682 303.6h1V312.4h-1zM683 300.3h1V313.4h-1zM684 300.3h1V309.1h-1zM685 296.9h1V306.1h-1zM686 296.9h1V302.7h-1zM687 293.6h1V302.7h-1zM688 293.6h1V302.4h-1zM689 290.6h1V302.4h-1zM690 290.5h1V299.5h-1zM691 290.5h1V298.5h-1zM692 290.5h1V299.5h-1zM693 290.5h1V299.5h-1zM694 288.5h1V299.5h-1zM695 290.5h1V299.5h-1zM696 290.5h1V299.5h-1zM697 290.5h1V299.5h-1zM698 290.5h1V296.5h-1zM699 287.5h1V296.5h-1zM700 290.5h1V302.5h-1zM701 290.5h1V299.5h-1zM702 288.5h1V301.5h-1zM703 290.5h1V297.5h-1zM704 289.5h1V296.5h-1zM705 289.5h1V299.5h-1zM706 290.5h1V299.5h-1zM707 290.5h1V299.5h-1zM708 290.5h1V299.5h-1zM709 290.5h1V298.5h-1zM710 290.5h1V299.5h-1zM711 290.5h1V298.5h-1zM712 288.2h1V298.5h-1zM713 280.4h1V294.7h-1zM714 271.7h1V290.4h-1zM715 263.0h1V281.6h-1zM716 254.2h1V272.9h-1zM717 245.5h1V264.2h-1zM718 236.7h1V255.4h-1zM719 228.0h1V246.7h-1zM720 222.8h1V237.9h-1zM721 218.0h1V229.2h-1zM722 218.0h1V227.0h-1zM723 218.0h1V227.0h-1zM724 215.0h1V227.0h-1zM725 218.0h1V227.0h-1zM726 219.0h1V227.0h-1zM727 215.0h1V228.0h-1zM728 218.0h1V229.0h-1zM729 218.0h1V229.0h-1zM730 218.0h1V230.0h-1zM731 218.0h1V230.0h-1zM732 218.0h1V227.0h-1zM733 215.0h1V230.0h-1zM734 218.0h1V227.0h-1zM735 218.0h1V227.0h-1zM736 216.0h1V227.0h-1zM737 216.0h1V227.0h-1zM738 218.0h1V228.0h-1zM739 215.0h1V228.0h-1zM740 215.0h1V228.0h-1zM741 218.0h1V228.0h-1zM742 218.0h1V229.0h-1zM743 218.0h1V227.0h-1zM744 218.0h1V227.0h-1zM745 215.0h1V225.0h-1zM746 218.0h1V229.0h-1zM747 218.0h1V227.0h-1zM748 217.0h1V227.0h-1zM749 216.0h1V227.0h-1zM750 216.0h1V227.0h-1zM751 218.0h1V230.0h-1zM752 214.4h1V227.0h-1zM753 206.8h1V223.1h-1zM754 199.3h1V215.6h-1zM755 191.8h1V208.0h-1zM756 184.3h1V200.5h-1zM757 176.7h1V193.0h-1zM758 169.2h1V185.5h-1zM759 161.7h1V177.9h-1zM760 154.2h1V170.4h-1zM761 149.7h1V162.9h-1zM762 149.7h1V158.3h-1zM763 149.7h1V158.3h-1zM764 149.7h1V158.3h-1zM765 147.7h1V158.3h-1zM766 148.7h1V155.3h-1zM767 151.7h1V158.3h-1zM768 149.7h1V159.3h-1zM769 149.7h1V158.3h-1zM770 149.7h1V158.3h-1zM771 146.7h1V158.3h-1zM772 149.7h1V159.3h-1zM773 149.7h1V158.3h-1zM774 149.7h1V161.3h-1zM775 149.7h1V158.3h-1zM776 149.7h1V158.3h-1zM777 149.7h1V158.3h-1zM778 149.7h1V158.3h-1zM779 149.7h1V158.3h-1zM780 149.7h1V157.3h-1zM781 149.7h1V158.3h-1zM782 149.7h1V161.3h-1zM783 149.7h1V160.3h-1zM784 146.7h1V160.3h-1zM785 149.7h1V158.3h-1zM786 149.7h1V158.3h-1zM787 149.7h1V158.3h-1zM788 147.7h1V158.3h-1zM789 147.7h1V158.3h-1zM790 147.7h1V158.3h-1zM791 149.7h1V158.3h-1zM792 149.7h1V158.3h-1zM793 146.5h1V161.3h-1zM794 141.5h1V153.9h-1zM795 134.6h1V149.7h-1zM796 127.6h1V142.7h-1zM797 123.4h1V135.8h-1zM798 119.7h1V128.8h-1zM799 117.7h1V128.3h-1zM800 119.7h1V128.3h-1zM801 119.7h1V128.3h-1zM802 119.7h1V127.3h-1zM803 119.7h1V127.3h-1zM804 119.7h1V131.3h-1zM805 119.7h1V128.3h-1zM806 119.7h1V126.3h-1zM807 118.7h1V128.3h-1zM808 118.7h1V128.3h-1zM809 119.7h1V128.3h-1zM810 119.7h1V128.3h-1zM811 116.7h1V128.3h-1zM812 119.7h1V125.3h-1zM813 119.7h1V128.3h-1zM814 117.7h1V128.3h-1zM815 119.7h1V125.3h-1zM816 119.7h1V128.3h-1zM817 119.7h1V128.3h-1zM818 121.7h1V128.3h-1zM819 119.7h1V128.3h-1zM820 117.7h1V129.3h-1zM821 118.7h1V131.3h-1zM822 118.7h1V128.3h-1zM823 117.7h1V128.3h-1zM824 119.7h1V131.3h-1zM825 119.7h1V128.3h-1zM826 119.7h1V128.3h-1zM827 119.7h1V128.3h-1zM828 119.7h1V129.3h-1zM829 119.7h1V129.3h-1zM830 119.7h1V128.3h-1zM831 119.7h1V131.3h-1zM832 119.7h1V128.3h-1zM833 119.7h1V129.6h-1zM834 121.0h1V129.6h-1zM835 123.0h1V132.2h-1zM836 124.6h1V133.2h-1zM837 124.6h1V134.7h-1zM838 128.1h1V136.7h-1zM839 128.1h1V141.3h-1zM840 128.7h1V141.3h-1zM841 131.7h1V143.9h-1zM842 135.3h1V143.9h-1zM843 135.3h1V147.5h-1zM844 137.9h1V147.5h-1zM845 138.9h1V151.1h-1zM846 142.5h1V154.1h-1zM847 142.5h1V154.7h-1zM848 146.1h1V154.7h-1zM849 144.1h1V160.3h-1zM850 149.7h1V160.3h-1zM851 149.7h1V156.3h-1zM852 149.7h1V160.3h-1zM853 147.7h1V160.3h-1zM854 149.7h1V158.3h-1zM855 146.7h1V158.3h-1zM856 147.7h1V158.3h-1zM857 147.7h1V158.3h-1zM858 147.7h1V158.3h-1zM859 149.7h1V158.3h-1zM860 149.7h1V158.3h-1zM861 149.7h1V159.3h-1zM862 149.7h1V159.3h-1zM863 146.7h1V158.3h-1zM864 146.7h1V155.3h-1zM865 149.7h1V155.3h-1zM866 149.7h1V158.3h-1zM867 149.7h1V158.3h-1zM868 149.7h1V158.3h-1zM869 149.7h1V158.3h-1zM870 149.7h1V155.3h-1zM871 149.7h1V159.1h-1zM872 153.4h1V168.1h-1zM873 157.9h1V177.1h-1zM874 166.9h1V186.1h-1zM875 175.9h1V195.0h-1zM876 184.9h1V204.0h-1zM877 193.8h1V213.0h-1zM878 202.8h1V222.0h-1zM879 211.8h1V229.5h-1zM880 220.5h1V231.5h-1zM881 220.5h1V231.5h-1zM882 220.5h1V229.5h-1zM883 217.5h1V229.5h-1zM884 220.5h1V229.5h-1zM885 220.5h1V229.5h-1zM886 220.5h1V229.5h-1zM887 220.5h1V226.5h-1zM888 220.5h1V226.5h-1zM889 220.5h1V229.5h-1zM890 220.5h1V229.5h-1zM891 220.5h1V229.5h-1zM892 220.5h1V229.5h-1zM893 220.5h1V229.5h-1zM894 220.5h1V231.5h-1zM895 220.5h1V231.5h-1zM896 220.5h1V230.5h-1zM897 220.5h1V230.5h-1zM898 220.5h1V229.5h-1zM899 220.5h1V229.5h-1zM900 220.5h1V229.5h-1zM901 220.5h1V229.5h-1zM902 221.5h1V229.5h-1zM903 220.5h1V232.5h-1zM904 220.5h1V232.5h-1zM905 220.5h1V229.5h-1zM906 217.5h1V226.5h-1zM907 220.5h1V229.5h-1zM908 220.5h1V229.5h-1zM909 218.5h1V231.5h-1zM910 218.5h1V231.5h-1zM911 220.5h1V231.4h-1zM912 224.4h1V238.5h-1zM913 230.2h1V245.7h-1zM914 237.3h1V252.9h-1zM915 244.5h1V260.1h-1zM916 251.7h1V267.3h-1zM917 258.9h1V274.5h-1zM918 266.1h1V281.7h-1zM919 273.3h1V288.9h-1zM920 280.5h1V295.4h-1zM921 287.7h1V303.0h-1zM922 288.0h1V303.0h-1zM923 288.0h1V302.0h-1zM924 288.0h1V301.0h-1zM925 288.0h1V301.0h-1zM926 288.0h1V302.0h-1zM927 291.0h1V300.0h-1zM928 289.0h1V300.0h-1zM929 289.0h1V303.0h-1zM930 291.0h1V303.0h-1zM931 291.0h1V300.0h-1zM932 291.0h1V300.0h-1zM933 291.0h1V300.0h-1zM934 291.0h1V303.0h-1zM935 291.0h1V303.0h-1zM936 291.0h1V303.0h-1zM937 291.0h1V300.0h-1zM938 291.0h1V301.0h-1zM939 291.0h1V300.0h-1zM940 288.0h1V300.0h-1zM941 289.0h1V297.0h-1zM942 291.0h1V297.0h-1zM943 291.0h1V300.0h-1zM944 291.0h1V300.0h-1zM945 291.0h1V297.0h-1zM946 291.0h1V297.0h-1zM947 289.0h1V301.0h-1zM948 291.0h1V298.0h-1zM949 291.0h1V301.0h-1zM950 291.0h1V301.0h-1zM951 291.0h1V300.0h-1zM952 291.0h1V300.0h-1zM953 294.9h1V304.4h-1zM954 297.6h1V309.9h-1zM955 303.1h1V315.4h-1zM956 308.6h1V320.9h-1zM957 314.1h1V327.3h-1zM958 318.7h1V326.3h-1zM959 318.7h1V326.3h-1zM960 318.7h1V327.3h-1zM961 318.7h1V330.3h-1zM962 318.7h1V325.3h-1zM963 318.7h1V327.3h-1zM964 316.7h1V327.3h-1zM965 318.7h1V327.3h-1zM966 318.7h1V327.3h-1zM967 318.7h1V325.3h-1zM968 318.7h1V327.3h-1zM969 318.7h1V327.3h-1zM970 318.7h1V324.3h-1zM971 315.7h1V327.3h-1zM972 315.7h1V327.3h-1zM973 318.7h1V327.3h-1zM974 318.7h1V327.3h-1zM975 316.7h1V327.3h-1zM976 320.7h1V330.3h-1zM977 318.7h1V330.3h-1zM978 318.7h1V327.3h-1zM979 315.7h1V324.3h-1zM980 318.7h1V324.3h-1zM981 318.7h1V327.3h-1zM982 318.7h1V324.3h-1zM983 315.7h1V327.3h-1zM984 315.7h1V327.3h-1zM985 318.7h1V327.3h-1zM986 318.7h1V327.3h-1zM987 316.7h1V327.3h-1zM988 315.7h1V327.3h-1zM989 315.7h1V327.3h-1zM990 318.7h1V327.3h-1zM991 314.9h1V327.3h-1zM992 315.8h1V323.6h-1zM993 314.4h1V326.6h-1zM994 314.4h1V323.2h-1zM995 308.1h1V324.2h-1zM996 311.1h1V319.9h-1zM997 307.8h1V319.9h-1zM998 307.8h1V318.6h-1zM999 304.4h1V313.6h-1zM1000 304.4h1V310.2h-1zM1001 298.1h1V314.2h-1zM1002 301.1h1V310.9h-1zM1003 297.8h1V309.9h-1zM1004 297.8h1V306.6h-1zM1005 294.4h1V303.6h-1zM1006 291.4h1V303.2h-1zM1007 288.1h1V305.2h-1zM1008 291.1h1V299.9h-1zM1009 290.5h1V300.0h-1zM1010 290.5h1V299.5h-1zM1011 290.5h1V301.5h-1zM1012 290.5h1V299.5h-1zM1013 290.5h1V300.5h-1zM1014 290.5h1V299.5h-1zM1015 290.5h1V298.5h-1z"/>
<path fill="#00f600" d="M17 319.0h1V324.0h-1zM18 319.0h1V324.0h-1zM19 319.0h1V324.0h-1zM20 319.0h1V324.0h-1zM21 319.0h1V324.0h-1zM22 319.0h1V324.0h-1zM23 319.0h1V324.0h-1zM24 319.0h1V324.0h-1zM25 319.0h1V324.0h-1zM26 319.0h1V324.0h-1zM27 319.0h1V324.0h-1zM28 319.0h1V324.0h-1zM29 319.0h1V324.0h-1zM30 319.0h1V324.0h-1zM31 319.0h1V324.0h-1zM32 319.0h1V324.0h-1zM33 319.0h1V324.0h-1zM34 319.0h1V324.0h-1zM35 319.0h1V324.0h-1zM36 318.9h1V324.1h-1zM37 315.6h1V324.1h-1zM38 315.6h1V320.8h-1zM39 312.2h1V320.8h-1zM40 312.9h1V317.4h-1zM41 308.9h1V317.4h-1zM42 308.9h1V314.1h-1zM43 305.6h1V314.1h-1zM44 305.6h1V310.8h-1zM45 302.2h1V310.8h-1zM46 302.2h1V307.4h-1zM47 298.9h1V307.4h-1zM48 298.9h1V304.1h-1zM49 295.6h1V304.1h-1zM50 295.6h1V300.8h-1zM51 292.2h1V300.8h-1zM52 292.2h1V297.4h-1zM53 290.8h1V297.5h-1zM54 290.8h1V296.2h-1zM55 290.8h1V296.2h-1zM56 290.8h1V296.2h-1zM57 290.8h1V296.2h-1zM58 290.8h1V296.2h-1zM59 290.8h1V296.2h-1zM60 290.8h1V296.2h-1zM61 290.8h1V296.2h-1zM62 292.5h1V296.2h-1zM63 290.8h1V296.2h-1zM64 290.8h1V296.2h-1zM65 290.8h1V296.2h-1zM66 290.8h1V296.2h-1zM67 290.8h1V296.2h-1zM68 290.8h1V296.2h-1zM69 290.8h1V296.2h-1zM70 290.8h1V296.2h-1zM71 290.8h1V296.2h-1zM72 290.8h1V296.2h-1zM73 290.8h1V296.2h-1zM74 290.8h1V296.2h-1zM75 290.8h1V296.2h-1zM76 280.4h1V294.7h-1zM77 271.7h1V290.4h-1zM78 263.0h1V281.6h-1zM79 254.2h1V272.9h-1zM80 245.5h1V264.2h-1zM81 236.7h1V255.4h-1zM82 228.0h1V246.7h-1zM83 221.9h1V237.9h-1zM84 218.3h1V223.7h-1zM85 218.3h1V223.7h-1zM86 218.3h1V223.7h-1zM87 218.3h1V223.7h-1zM88 218.3h1V223.7h-1zM89 218.3h1V223.7h-1zM90 218.3h1V223.7h-1zM91 218.3h1V223.7h-1zM92 218.3h1V223.7h-1zM93 218.3h1V223.7h-1zM94 218.3h1V223.7h-1zM95 218.3h1V223.7h-1zM96 218.3h1V223.7h-1zM97 218.3h1V223.7h-1zM98 218.3h1V223.7h-1zM99 218.3h1V223.7h-1zM100 218.3h1V223.7h-1zM101 218.3h1V223.7h-1zM102 218.3h1V223.7h-1zM103 218.3h1V223.7h-1zM104 218.3h1V223.7h-1zM105 218.3h1V223.7h-1zM106 218.3h1V223.7h-1zM107 218.3h1V223.7h-1zM108 218.3h1V223.7h-1zM109 218.3h1V223.7h-1zM110 218.3h1V223.7h-1zM111 218.3h1V223.7h-1zM112 218.3h1V223.7h-1zM113 218.3h1V223.7h-1zM114 218.3h1V223.7h-1zM115 214.4h1V227.0h-1zM116 206.8h1V223.1h-1zM117 199.3h1V215.6h-1zM118 191.8h1V208.0h-1zM119 184.3h1V200.5h-1zM120 176.7h1V193.0h-1zM121 169.2h1V185.5h-1zM122 161.7h1V177.9h-1zM123 154.2h1V170.4h-1zM124 149.7h1V162.9h-1zM125 150.0h1V155.0h-1zM126 150.0h1V155.0h-1zM127 150.0h1V155.0h-1zM128 150.0h1V155.0h-1zM129 150.0h1V155.0h-1zM130 150.0h1V155.0h-1zM131 150.0h1V155.0h-1zM132 150.0h1V155.0h-1zM133 150.0h1V155.0h-1zM134 150.0h1V155.0h-1zM135 150.7h1V155.0h-1zM136 150.0h1V155.0h-1zM137 150.0h1V155.0h-1zM138 150.0h1V155.0h-1zM139 150.0h1V155.0h-1zM140 150.0h1V155.0h-1zM141 150.0h1V155.0h-1zM142 150.0h1V155.0h-1zM143 150.0h1V155.0h-1zM144 150.0h1V155.0h-1zM145 150.0h1V155.0h-1zM146 150.0h1V155.0h-1zM147 150.0h1V155.0h-1zM148 150.0h1V155.0h-1zM149 150.0h1V155.0h-1zM150 150.0h1V155.0h-1zM151 150.0h1V155.0h-1zM152 150.0h1V155.0h-1zM153 150.0h1V155.0h-1zM154 150.0h1V155.0h-1zM155 150.0h1V155.0h-1zM156 150.0h1V155.0h-1zM157 141.5h1V154.6h-1zM158 134.6h1V149.7h-1zM159 127.6h1V142.7h-1zM160 124.1h1V135.8h-1zM161 120.0h1V125.0h-1zM162 120.0h1V125.0h-1zM163 120.0h1V125.0h-1zM164 120.0h1V125.0h-1zM165 120.0h1V125.0h-1zM166 120.0h1V125.0h-1zM167 120.0h1V125.0h-1zM168 120.0h1V125.0h-1zM169 120.0h1V125.0h-1zM170 120.0h1V125.0h-1zM171 120.0h1V125.0h-1zM172 120.0h1V125.0h-1zM173 120.0h1V125.0h-1zM174 120.0h1V125.0h-1zM175 120.0h1V125.0h-1zM176 120.0h1V125.0h-1zM177 120.0h1V125.0h-1zM178 120.0h1V125.0h-1zM179 120.0h1V125.0h-1zM180 120.0h1V125.0h-1zM181 120.0h1V125.0h-1zM182 120.0h1V125.0h-1zM183 120.0h1V125.0h-1zM184 120.0h1V125.0h-1zM185 120.0h1V125.0h-1zM186 120.0h1V125.0h-1zM187 120.0h1V125.0h-1zM188 120.0h1V125.0h-1zM189 120.0h1V125.0h-1zM190 121.7h1V125.0h-1zM191 120.0h1V125.0h-1zM192 120.0h1V125.0h-1zM193 120.0h1V125.0h-1zM194 120.0h1V125.0h-1zM195 120.0h1V125.0h-1zM196 120.0h1V125.0h-1zM197 120.0h1V128.1h-1zM198 123.1h1V128.1h-1zM199 123.1h1V131.6h-1zM200 126.6h1V131.6h-1zM201 126.6h1V135.2h-1zM202 130.2h1V135.2h-1zM203 130.2h1V138.8h-1zM204 133.8h1V138.8h-1zM205 133.8h1V142.4h-1zM206 137.4h1V142.4h-1zM207 137.4h1V146.0h-1zM208 141.0h1V146.0h-1zM209 141.0h1V149.6h-1zM210 144.6h1V149.6h-1zM211 144.6h1V153.2h-1zM212 148.2h1V153.2h-1zM213 148.2h1V155.0h-1zM214 150.0h1V155.0h-1zM215 150.0h1V155.0h-1zM216 150.0h1V155.0h-1zM217 150.7h1V155.0h-1zM218 150.0h1V155.0h-1zM219 150.0h1V155.0h-1zM220 150.0h1V155.0h-1zM221 150.0h1V155.0h-1zM222 150.0h1V155.0h-1zM223 150.0h1V155.0h-1zM224 150.0h1V155.0h-1zM225 150.0h1V155.0h-1zM226 150.0h1V155.0h-1zM227 150.0h1V155.0h-1zM228 150.0h1V155.0h-1zM229 150.0h1V155.0h-1zM230 150.0h1V155.0h-1zM231 150.0h1V155.0h-1zM232 151.7h1V155.0h-1zM233 150.0h1V155.0h-1zM234 150.0h1V155.0h-1zM235 153.4h1V168.1h-1zM236 157.9h1V177.1h-1zM237 166.9h1V186.1h-1zM238 175.9h1V195.0h-1zM239 184.9h1V204.0h-1zM240 193.8h1V213.0h-1zM241 202.8h1V222.0h-1zM242 211.8h1V229.5h-1zM243 220.8h1V226.2h-1zM244 220.8h1V226.2h-1zM245 220.8h1V226.2h-1zM246 220.8h1V226.2h-1zM247 220.8h1V226.2h-1zM248 220.8h1V226.2h-1zM249 220.8h1V226.2h-1zM250 220.8h1V226.2h-1zM251 220.8h1V226.2h-1zM252 220.8h1V226.2h-1zM253 220.8h1V226.2h-1zM254 220.8h1V226.2h-1zM255 220.8h1V226.2h-1zM256 220.8h1V226.2h-1zM257 220.8h1V226.2h-1zM258 222.5h1V226.2h-1zM259 220.8h1V226.2h-1zM260 220.8h1V226.2h-1zM261 220.8h1V226.2h-1zM262 220.8h1V226.2h-1zM263 220.8h1V226.2h-1zM264 220.8h1V226.2h-1zM265 220.8h1V226.2h-1zM266 220.8h1V226.2h-1zM267 220.8h1V226.2h-1zM268 220.8h1V226.2h-1zM269 220.8h1V226.2h-1zM270 220.8h1V226.2h-1zM271 220.8h1V226.2h-1zM272 220.8h1V226.2h-1zM273 220.8h1V226.2h-1zM274 220.8h1V226.2h-1zM275 224.4h1V238.5h-1zM276 230.2h1V245.7h-1zM277 237.3h1V252.9h-1zM278 244.5h1V260.1h-1zM279 251.7h1V267.3h-1zM280 258.9h1V274.5h-1zM281 266.1h1V281.7h-1zM282 273.3h1V288.9h-1zM283 280.5h1V295.4h-1zM284 291.3h1V296.7h-1zM285 291.3h1V296.7h-1zM286 291.3h1V296.7h-1zM287 291.3h1V296.7h-1zM288 291.3h1V296.7h-1zM289 291.3h1V296.7h-1zM290 291.3h1V296.7h-1zM291 291.3h1V296.7h-1zM292 291.3h1V296.7h-1zM293 291.3h1V296.7h-1zM294 291.3h1V296.7h-1zM295 291.3h1V296.7h-1zM296 291.3h1V296.7h-1zM297 291.3h1V296.7h-1zM298 291.3h1V296.7h-1zM299 291.3h1V296.7h-1zM300 291.3h1V296.7h-1zM301 291.3h1V296.7h-1zM302 291.3h1V296.7h-1zM303 291.3h1V296.7h-1zM304 291.3h1V296.7h-1zM305 291.3h1V296.7h-1zM306 291.3h1V296.7h-1zM307 291.3h1V296.7h-1zM308 291.3h1V296.7h-1zM309 291.3h1V296.7h-1zM310 291.3h1V296.7h-1zM311 291.3h1V296.7h-1zM312 292.0h1V296.7h-1zM313 291.3h1V296.7h-1zM314 291.3h1V296.7h-1zM315 291.3h1V296.7h-1zM316 294.9h1V304.4h-1zM317 297.6h1V309.9h-1zM318 303.1h1V315.4h-1zM319 308.6h1V320.9h-1zM320 314.1h1V327.3h-1zM321 319.0h1V324.0h-1zM322 319.0h1V324.0h-1zM323 319.0h1V324.0h-1zM324 319.7h1V324.0h-1zM325 319.0h1V324.0h-1zM326 319.0h1V324.0h-1zM327 319.0h1V324.0h-1zM328 319.0h1V324.0h-1zM329 319.0h1V324.0h-1zM330 319.0h1V324.0h-1zM331 319.7h1V324.0h-1zM332 319.0h1V324.0h-1zM333 319.0h1V324.0h-1zM334 319.0h1V324.0h-1zM335 319.0h1V324.0h-1zM336 319.0h1V324.0h-1zM337 319.0h1V324.0h-1zM338 319.0h1V324.0h-1zM339 319.0h1V324.0h-1zM340 319.0h1V324.0h-1zM341 319.0h1V324.0h-1zM342 319.0h1V324.0h-1zM343 319.0h1V324.0h-1zM344 319.0h1V324.0h-1zM345 319.0h1V324.0h-1zM346 319.0h1V324.0h-1zM347 319.0h1V324.0h-1zM348 319.0h1V324.0h-1zM349 319.0h1V324.0h-1zM350 319.0h1V324.0h-1zM351 319.0h1V324.0h-1zM352 319.0h1V324.0h-1zM353 319.0h1V324.0h-1zM354 319.0h1V324.0h-1zM355 316.4h1V324.1h-1zM356 316.4h1V321.6h-1zM357 313.1h1V321.6h-1zM358 313.1h1V318.3h-1zM359 309.7h1V318.3h-1zM360 309.7h1V314.9h-1zM361 306.4h1V314.9h-1zM362 306.4h1V311.6h-1zM363 303.1h1V311.6h-1zM364 303.1h1V308.3h-1zM365 301.4h1V308.3h-1zM366 299.7h1V304.9h-1zM367 296.4h1V304.9h-1zM368 297.1h1V301.6h-1zM369 293.1h1V301.6h-1zM370 293.1h1V298.3h-1zM371 290.9h1V298.3h-1zM372 290.8h1V296.2h-1zM373 290.8h1V296.2h-1zM374 290.8h1V296.2h-1zM375 290.8h1V296.2h-1zM376 290.8h1V296.2h-1zM377 290.8h1V296.2h-1zM378 290.8h1V296.2h-1zM379 290.8h1V296.2h-1zM380 290.8h1V296.2h-1zM381 290.8h1V296.2h-1zM382 290.8h1V296.2h-1zM383 290.8h1V296.2h-1zM384 290.8h1V296.2h-1zM385 290.8h1V296.2h-1zM386 290.8h1V296.2h-1zM387 291.5h1V296.2h-1zM388 290.8h1V296.2h-1zM389 290.8h1V296.2h-1zM390 290.8h1V296.2h-1zM391 290.8h1V296.2h-1zM392 290.8h1V296.2h-1zM393 290.8h1V296.2h-1zM394 284.8h1V299.5h-1zM395 276.1h1V294.7h-1zM396 267.3h1V286.0h-1zM397 258.6h1V277.3h-1zM398 249.9h1V268.5h-1zM399 241.1h1V259.8h-1zM400 232.4h1V251.1h-1zM401 223.6h1V242.3h-1zM402 218.0h1V233.6h-1zM403 218.3h1V223.7h-1zM404 218.3h1V223.7h-1zM405 218.3h1V223.7h-1zM406 218.3h1V223.7h-1zM407 218.3h1V223.7h-1zM408 218.3h1V223.7h-1zM409 218.3h1V223.7h-1zM410 218.3h1V223.7h-1zM411 218.3h1V223.7h-1zM412 218.3h1V223.7h-1zM413 218.3h1V223.7h-1zM414 218.3h1V223.7h-1zM415 218.3h1V223.7h-1zM416 218.3h1V223.7h-1zM417 218.3h1V223.7h-1zM418 218.3h1V223.7h-1zM419 218.3h1V223.7h-1zM420 218.3h1V223.7h-1zM421 218.3h1V223.7h-1zM422 218.3h1V223.7h-1zM423 218.3h1V223.7h-1zM424 218.3h1V223.7h-1zM425 218.3h1V223.7h-1zM426 218.3h1V223.7h-1zM427 218.3h1V223.7h-1zM428 218.3h1V223.7h-1zM429 218.3h1V223.7h-1zM430 218.3h1V223.7h-1zM431 218.3h1V223.7h-1zM432 218.3h1V223.7h-1zM433 218.3h1V223.7h-1zM434 210.6h1V223.1h-1zM435 203.1h1V219.3h-1zM436 195.6h1V211.8h-1zM437 188.0h1V204.3h-1zM438 180.5h1V196.8h-1zM439 173.0h1V189.2h-1zM440 165.4h1V181.7h-1zM441 157.9h1V174.2h-1zM442 154.2h1V166.6h-1zM443 150.0h1V155.0h-1zM444 150.0h1V155.0h-1zM445 150.0h1V155.0h-1zM446 150.0h1V155.0h-1zM447 150.0h1V155.0h-1zM448 150.0h1V155.0h-1zM449 150.0h1V155.0h-1zM450 150.0h1V155.0h-1zM451 150.0h1V155.0h-1zM452 150.0h1V155.0h-1zM453 151.7h1V155.0h-1zM454 150.0h1V155.0h-1zM455 150.0h1V155.0h-1zM456 150.0h1V155.0h-1zM457 150.0h1V155.0h-1zM458 150.0h1V155.0h-1zM459 150.0h1V155.0h-1zM460 150.0h1V155.0h-1zM461 150.0h1V155.0h-1zM462 150.0h1V155.0h-1zM463 150.0h1V155.0h-1zM464 150.0h1V155.0h-1zM465 150.0h1V155.0h-1zM466 151.7h1V155.0h-1zM467 150.0h1V155.0h-1zM468 150.0h1V155.0h-1zM469 150.0h1V155.0h-1zM470 150.0h1V155.0h-1zM471 150.0h1V155.0h-1zM472 151.7h1V155.0h-1zM473 150.0h1V155.0h-1zM474 150.0h1V155.0h-1zM475 145.0h1V158.3h-1zM476 138.1h1V153.2h-1zM477 131.1h1V146.2h-1zM478 124.1h1V139.3h-1zM479 119.7h1V132.3h-1zM480 120.0h1V125.0h-1zM481 120.0h1V125.0h-1zM482 120.0h1V125.0h-1zM483 120.0h1V125.0h-1zM484 120.0h1V125.0h-1zM485 120.0h1V125.0h-1zM486 120.0h1V125.0h-1zM487 120.0h1V125.0h-1zM488 120.0h1V125.0h-1zM489 120.0h1V125.0h-1zM490 120.0h1V125.0h-1zM491 120.0h1V125.0h-1zM492 120.0h1V125.0h-1zM493 120.0h1V125.0h-1zM494 120.0h1V125.0h-1zM495 120.0h1V125.0h-1zM496 120.0h1V125.0h-1zM497 120.0h1V125.0h-1zM498 120.0h1V125.0h-1zM499 120.0h1V125.0h-1zM500 120.0h1V125.0h-1zM501 120.0h1V125.0h-1zM502 120.0h1V125.0h-1zM503 120.0h1V125.0h-1zM504 120.0h1V125.0h-1zM505 120.0h1V125.0h-1zM506 120.0h1V125.0h-1zM507 120.0h1V125.0h-1zM508 120.0h1V125.0h-1zM509 120.0h1V125.0h-1zM510 120.0h1V125.0h-1zM511 120.0h1V125.0h-1zM512 120.0h1V125.0h-1zM513 120.0h1V125.0h-1zM514 120.0h1V125.0h-1zM515 120.0h1V127.2h-1zM516 122.2h1V127.2h-1zM517 122.9h1V130.7h-1zM518 125.7h1V130.7h-1zM519 125.7h1V134.3h-1zM520 129.3h1V134.3h-1zM521 129.3h1V137.9h-1zM522 132.9h1V137.9h-1zM523 132.9h1V141.5h-1zM524 136.5h1V141.5h-1zM525 137.2h1V145.1h-1zM526 140.1h1V145.1h-1zM527 140.1h1V148.7h-1zM528 143.7h1V148.7h-1zM529 143.7h1V152.3h-1zM530 147.3h1V152.3h-1zM531 147.3h1V155.0h-1zM532 150.0h1V155.0h-1zM533 150.0h1V155.0h-1zM534 150.0h1V155.0h-1zM535 150.0h1V155.0h-1zM536 150.0h1V155.0h-1zM537 150.0h1V155.0h-1zM538 150.0h1V155.0h-1zM539 150.0h1V155.0h-1zM540 150.0h1V155.0h-1zM541 150.0h1V155.0h-1zM542 150.0h1V155.0h-1zM543 150.0h1V155.0h-1zM544 150.0h1V155.0h-1zM545 150.0h1V155.0h-1zM546 150.0h1V155.0h-1zM547 150.0h1V155.0h-1zM548 150.0h1V155.0h-1zM549 150.0h1V155.0h-1zM550 150.0h1V155.0h-1zM551 150.0h1V155.0h-1zM552 150.0h1V155.0h-1zM553 149.7h1V163.6h-1zM554 153.4h1V172.6h-1zM555 162.4h1V181.6h-1zM556 171.4h1V190.5h-1zM557 180.4h1V199.5h-1zM558 189.3h1V208.5h-1zM559 198.3h1V217.5h-1zM560 207.3h1V225.6h-1zM561 220.8h1V226.2h-1zM562 220.8h1V226.2h-1zM563 220.8h1V226.2h-1zM564 220.8h1V226.2h-1zM565 220.8h1V226.2h-1zM566 220.8h1V226.2h-1zM567 220.8h1V226.2h-1zM568 220.8h1V226.2h-1zM569 220.8h1V226.2h-1zM570 220.8h1V226.2h-1zM571 220.8h1V226.2h-1zM572 220.8h1V226.2h-1zM573 220.8h1V226.2h-1zM574 220.8h1V226.2h-1zM575 220.8h1V226.2h-1zM576 220.8h1V226.2h-1zM577 220.8h1V226.2h-1zM578 220.8h1V226.2h-1zM579 220.8h1V226.2h-1zM580 220.8h1V226.2h-1zM581 220.8h1V226.2h-1zM582 220.8h1V226.2h-1zM583 220.8h1V226.2h-1zM584 220.8h1V226.2h-1zM585 220.8h1V226.2h-1zM586 220.8h1V226.2h-1zM587 220.8h1V226.2h-1zM588 220.8h1V226.2h-1zM589 222.5h1V226.2h-1zM590 220.8h1V226.2h-1zM591 220.8h1V226.2h-1zM592 222.5h1V226.2h-1zM593 220.5h1V235.0h-1zM594 226.6h1V242.1h-1zM595 233.8h1V249.3h-1zM596 240.9h1V256.5h-1zM597 248.1h1V263.7h-1zM598 255.3h1V270.9h-1zM599 262.5h1V278.1h-1zM600 269.7h1V285.3h-1zM601 276.9h1V292.5h-1zM602 284.1h1V300.0h-1zM603 291.3h1V296.7h-1zM604 291.3h1V296.7h-1zM605 291.3h1V296.7h-1zM606 293.0h1V296.7h-1zM607 291.3h1V296.7h-1zM608 291.3h1V296.7h-1zM609 291.3h1V296.7h-1zM610 291.3h1V296.7h-1zM611 291.3h1V296.7h-1zM612 291.3h1V296.7h-1zM613 291.3h1V296.7h-1zM614 291.3h1V296.7h-1zM615 291.3h1V296.7h-1zM616 291.3h1V296.7h-1zM617 291.3h1V296.7h-1zM618 291.3h1V296.7h-1zM619 291.3h1V296.7h-1zM620 291.3h1V296.7h-1zM621 291.3h1V296.7h-1zM622 291.3h1V296.7h-1zM623 292.0h1V296.7h-1zM624 292.0h1V296.7h-1zM625 291.3h1V296.7h-1zM626 291.3h1V296.7h-1zM627 291.3h1V296.7h-1zM628 291.3h1V296.7h-1zM629 291.3h1V296.7h-1zM630 291.3h1V296.7h-1zM631 291.3h1V296.7h-1zM632 291.3h1V296.7h-1zM633 291.3h1V296.7h-1zM634 291.0h1V301.6h-1zM635 294.9h1V307.1h-1zM636 300.4h1V312.6h-1zM637 305.9h1V318.1h-1zM638 311.4h1V323.0h-1zM639 319.0h1V324.0h-1zM640 319.0h1V324.0h-1zM641 319.0h1V324.0h-1zM642 319.0h1V324.0h-1zM643 319.0h1V324.0h-1zM644 319.0h1V324.0h-1zM645 319.0h1V324.0h-1zM646 319.0h1V324.0h-1zM647 319.0h1V324.0h-1zM648 319.0h1V324.0h-1zM649 319.0h1V324.0h-1zM650 320.7h1V324.0h-1zM651 319.0h1V324.0h-1zM652 319.0h1V324.0h-1zM653 319.0h1V324.0h-1zM654 319.0h1V324.0h-1zM655 319.0h1V324.0h-1zM656 319.0h1V324.0h-1zM657 319.0h1V324.0h-1zM658 320.7h1V324.0h-1zM659 319.0h1V324.0h-1zM660 319.0h1V324.0h-1zM661 319.0h1V324.0h-1zM662 319.0h1V324.0h-1zM663 319.0h1V324.0h-1zM664 319.0h1V324.0h-1zM665 319.0h1V324.0h-1zM666 320.7h1V324.0h-1zM667 319.0h1V324.0h-1zM668 319.0h1V324.0h-1zM669 319.0h1V324.0h-1zM670 319.0h1V324.0h-1zM671 319.0h1V324.0h-1zM672 319.0h1V324.0h-1zM673 317.2h1V324.0h-1zM674 317.2h1V322.4h-1zM675 313.9h1V322.4h-1zM676 313.9h1V319.1h-1zM677 310.6h1V319.1h-1zM678 310.6h1V315.8h-1zM679 307.2h1V315.8h-1zM680 307.2h1V312.4h-1zM681 303.9h1V312.4h-1zM682 303.9h1V309.1h-1zM683 300.6h1V309.1h-1zM684 300.6h1V305.8h-1zM685 297.2h1V305.8h-1zM686 297.2h1V302.4h-1zM687 293.9h1V302.4h-1zM688 293.9h1V299.1h-1zM689 290.9h1V299.1h-1zM690 290.8h1V296.2h-1zM691 290.8h1V296.2h-1zM692 290.8h1V296.2h-1zM693 290.8h1V296.2h-1zM694 290.8h1V296.2h-1zM695 290.8h1V296.2h-1zM696 290.8h1V296.2h-1zM697 290.8h1V296.2h-1zM698 290.8h1V296.2h-1zM699 290.8h1V296.2h-1zM700 290.8h1V296.2h-1zM701 290.8h1V296.2h-1zM702 290.8h1V296.2h-1zM703 290.8h1V296.2h-1zM704 290.8h1V296.2h-1zM705 290.8h1V296.2h-1zM706 290.8h1V296.2h-1zM707 290.8h1V296.2h-1zM708 290.8h1V296.2h-1zM709 290.8h1V296.2h-1zM710 290.8h1V296.2h-1zM711 290.8h1V296.2h-1zM712 290.8h1V296.2h-1zM713 280.4h1V294.7h-1zM714 271.7h1V290.4h-1zM715 263.0h1V281.6h-1zM716 254.2h1V272.9h-1zM717 245.5h1V264.2h-1zM718 236.7h1V255.4h-1zM719 228.0h1V246.7h-1zM720 222.8h1V237.9h-1zM721 218.3h1V223.7h-1zM722 218.3h1V223.7h-1zM723 218.3h1V223.7h-1zM724 218.3h1V223.7h-1zM725 218.3h1V223.7h-1zM726 219.0h1V223.7h-1zM727 218.3h1V223.7h-1zM728 218.3h1V223.7h-1zM729 218.3h1V223.7h-1zM730 218.3h1V223.7h-1zM731 218.3h1V223.7h-1zM732 218.3h1V223.7h-1zM733 218.3h1V223.7h-1zM734 218.3h1V223.7h-1zM735 218.3h1V223.7h-1zM736 218.3h1V223.7h-1zM737 218.3h1V223.7h-1zM738 218.3h1V223.7h-1zM739 218.3h1V223.7h-1zM740 218.3h1V223.7h-1zM741 218.3h1V223.7h-1zM742 218.3h1V223.7h-1zM743 218.3h1V223.7h-1zM744 218.3h1V223.7h-1zM745 218.3h1V223.7h-1zM746 218.3h1V223.7h-1zM747 218.3h1V223.7h-1zM748 218.3h1V223.7h-1zM749 218.3h1V223.7h-1zM750 218.3h1V223.7h-1zM751 218.3h1V223.7h-1zM752 214.4h1V227.0h-1zM753 206.8h1V223.1h-1zM754 199.3h1V215.6h-1zM755 191.8h1V208.0h-1zM756 184.3h1V200.5h-1zM757 176.7h1V193.0h-1zM758 169.2h1V185.5h-1zM759 161.7h1V177.9h-1zM760 154.2h1V170.4h-1zM761 149.7h1V162.9h-1zM762 150.0h1V155.0h-1zM763 150.0h1V155.0h-1zM764 150.0h1V155.0h-1zM765 150.0h1V155.0h-1zM766 150.0h1V155.0h-1zM767 151.7h1V155.0h-1zM768 150.0h1V155.0h-1zM769 150.0h1V155.0h-1zM770 150.0h1V155.0h-1zM771 150.0h1V155.0h-1zM772 150.0h1V155.0h-1zM773 150.0h1V155.0h-1zM774 150.0h1V155.0h-1zM775 150.0h1V155.0h-1zM776 150.0h1V155.0h-1zM777 150.0h1V155.0h-1zM778 150.0h1V155.0h-1zM779 150.0h1V155.0h-1zM780 150.0h1V155.0h-1zM781 150.0h1V155.0h-1zM782 150.0h1V155.0h-1zM783 150.0h1V155.0h-1zM784 150.0h1V155.0h-1zM785 150.0h1V155.0h-1zM786 150.0h1V155.0h-1zM787 150.0h1V155.0h-1zM788 150.0h1V155.0h-1zM789 150.0h1V155.0h-1zM790 150.0h1V155.0h-1zM791 150.0h1V155.0h-1zM792 150.0h1V155.0h-1zM793 150.0h1V155.0h-1zM794 141.5h1V153.9h-1zM795 134.6h1V149.7h-1zM796 127.6h1V142.7h-1zM797 123.4h1V135.8h-1zM798 120.0h1V125.0h-1zM799 120.0h1V125.0h-1zM800 120.0h1V125.0h-1zM801 120.0h1V125.0h-1zM802 120.0h1V125.0h-1zM803 120.0h1V125.0h-1zM804 120.0h1V125.0h-1zM805 120.0h1V125.0h-1zM806 120.0h1V125.0h-1zM807 120.0h1V125.0h-1zM808 120.0h1V125.0h-1zM809 120.0h1V125.0h-1zM810 120.0h1V125.0h-1zM811 120.0h1V125.0h-1zM812 120.0h1V125.0h-1zM813 120.0h1V125.0h-1zM814 120.0h1V125.0h-1zM815 120.0h1V125.0h-1zM816 120.0h1V125.0h-1zM817 120.0h1V125.0h-1zM818 121.7h1V125.0h-1zM819 120.0h1V125.0h-1zM820 120.0h1V125.0h-1zM821 120.0h1V125.0h-1zM822 120.0h1V125.0h-1zM823 120.0h1V125.0h-1zM824 120.0h1V125.0h-1zM825 120.0h1V125.0h-1zM826 120.0h1V125.0h-1zM827 120.0h1V125.0h-1zM828 120.0h1V125.0h-1zM829 120.0h1V125.0h-1zM830 120.0h1V125.0h-1zM831 120.0h1V125.0h-1zM832 120.0h1V125.0h-1zM833 120.0h1V126.3h-1zM834 121.3h1V126.3h-1zM835 123.0h1V129.9h-1zM836 124.9h1V129.9h-1zM837 124.9h1V133.4h-1zM838 128.4h1V133.4h-1zM839 128.4h1V137.0h-1zM840 132.0h1V137.0h-1zM841 132.0h1V140.6h-1zM842 135.6h1V140.6h-1zM843 135.6h1V144.2h-1zM844 139.2h1V144.2h-1zM845 139.2h1V147.8h-1zM846 142.8h1V147.8h-1zM847 142.8h1V151.4h-1zM848 146.4h1V151.4h-1zM849 146.4h1V155.0h-1zM850 150.0h1V155.0h-1zM851 150.0h1V155.0h-1zM852 150.0h1V155.0h-1zM853 150.0h1V155.0h-1zM854 150.0h1V155.0h-1zM855 150.0h1V155.0h-1zM856 150.0h1V155.0h-1zM857 150.0h1V155.0h-1zM858 150.0h1V155.0h-1zM859 150.0h1V155.0h-1zM860 150.0h1V155.0h-1zM861 150.0h1V155.0h-1zM862 150.0h1V155.0h-1zM863 150.0h1V155.0h-1zM864 150.0h1V155.0h-1zM865 150.0h1V155.0h-1zM866 150.0h1V155.0h-1zM867 150.0h1V155.0h-1zM868 150.0h1V155.0h-1zM869 150.0h1V155.0h-1zM870 150.0h1V155.0h-1zM871 150.0h1V155.0h-1zM872 153.4h1V168.1h-1zM873 157.9h1V177.1h-1zM874 166.9h1V186.1h-1zM875 175.9h1V195.0h-1zM876 184.9h1V204.0h-1zM877 193.8h1V213.0h-1zM878 202.8h1V222.0h-1zM879 211.8h1V229.5h-1zM880 220.8h1V226.2h-1zM881 220.8h1V226.2h-1zM882 220.8h1V226.2h-1zM883 220.8h1V226.2h-1zM884 220.8h1V226.2h-1zM885 220.8h1V226.2h-1zM886 220.8h1V226.2h-1zM887 220.8h1V226.2h-1zM888 220.8h1V226.2h-1zM889 220.8h1V226.2h-1zM890 220.8h1V226.2h-1zM891 220.8h1V226.2h-1zM892 220.8h1V226.2h-1zM893 220.8h1V226.2h-1zM894 220.8h1V226.2h-1zM895 220.8h1V226.2h-1zM896 220.8h1V226.2h-1zM897 220.8h1V226.2h-1zM898 220.8h1V226.2h-1zM899 220.8h1V226.2h-1zM900 220.8h1V226.2h-1zM901 220.8h1V226.2h-1zM902 221.5h1V226.2h-1zM903 220.8h1V226.2h-1zM904 220.8h1V226.2h-1zM905 220.8h1V226.2h-1zM906 220.8h1V226.2h-1zM907 220.8h1V226.2h-1zM908 220.8h1V226.2h-1zM909 220.8h1V226.2h-1zM910 220.8h1V226.2h-1zM911 220.8h1V226.2h-1zM912 224.4h1V238.5h-1zM913 230.2h1V245.7h-1zM914 237.3h1V252.9h-1zM915 244.5h1V260.1h-1zM916 251.7h1V267.3h-1zM917 258.9h1V274.5h-1zM918 266.1h1V281.7h-1zM919 273.3h1V288.9h-1zM920 280.5h1V295.4h-1zM921 291.3h1V296.7h-1zM922 291.3h1V296.7h-1zM923 291.3h1V296.7h-1zM924 291.3h1V296.7h-1zM925 291.3h1V296.7h-1zM926 291.3h1V296.7h-1zM927 291.3h1V296.7h-1zM928 291.3h1V296.7h-1zM929 291.3h1V296.7h-1zM930 291.3h1V296.7h-1zM931 291.3h1V296.7h-1zM932 291.3h1V296.7h-1zM933 291.3h1V296.7h-1zM934 291.3h1V296.7h-1zM935 291.3h1V296.7h-1zM936 291.3h1V296.7h-1zM937 291.3h1V296.7h-1zM938 291.3h1V296.7h-1zM939 291.3h1V296.7h-1zM940 291.3h1V296.7h-1zM941 291.3h1V296.7h-1zM942 291.3h1V296.7h-1zM943 291.3h1V296.7h-1zM944 291.3h1V296.7h-1zM945 291.3h1V296.7h-1zM946 291.3h1V296.7h-1zM947 291.3h1V296.7h-1zM948 291.3h1V296.7h-1zM949 291.3h1V296.7h-1zM950 291.3h1V296.7h-1zM951 291.3h1V296.7h-1zM952 291.3h1V296.7h-1zM953 294.9h1V304.4h-1zM954 297.6h1V309.9h-1zM955 303.1h1V315.4h-1zM956 308.6h1V320.9h-1zM957 314.1h1V327.3h-1zM958 319.0h1V324.0h-1zM959 319.0h1V324.0h-1zM960 319.0h1V324.0h-1zM961 319.0h1V324.0h-1zM962 319.0h1V324.0h-1zM963 319.0h1V324.0h-1zM964 319.0h1V324.0h-1zM965 319.0h1V324.0h-1zM966 319.0h1V324.0h-1zM967 319.0h1V324.0h-1zM968 319.0h1V324.0h-1zM969 319.0h1V324.0h-1zM970 319.0h1V324.0h-1zM971 319.0h1V324.0h-1zM972 319.0h1V324.0h-1zM973 319.0h1V324.0h-1zM974 319.0h1V324.0h-1zM975 319.0h1V324.0h-1zM976 320.7h1V324.0h-1zM977 319.0h1V324.0h-1zM978 319.0h1V324.0h-1zM979 319.0h1V324.0h-1zM980 319.0h1V324.0h-1zM981 319.0h1V324.0h-1zM982 319.0h1V324.0h-1zM983 319.0h1V324.0h-1zM984 319.0h1V324.0h-1zM985 319.0h1V324.0h-1zM986 319.0h1V324.0h-1zM987 319.0h1V324.0h-1zM988 319.0h1V324.0h-1zM989 319.0h1V324.0h-1zM990 319.0h1V324.0h-1zM991 318.2h1V324.0h-1zM992 318.1h1V323.3h-1zM993 314.7h1V323.3h-1zM994 314.7h1V319.9h-1zM995 311.4h1V319.9h-1zM996 311.4h1V316.6h-1zM997 308.1h1V316.6h-1zM998 308.1h1V313.3h-1zM999 304.7h1V313.3h-1zM1000 304.7h1V309.9h-1zM1001 301.4h1V309.9h-1zM1002 301.4h1V306.6h-1zM1003 298.1h1V306.6h-1zM1004 298.1h1V303.3h-1zM1005 294.7h1V303.3h-1zM1006 294.7h1V299.9h-1zM1007 291.4h1V299.9h-1zM1008 291.4h1V296.6h-1zM1009 290.8h1V296.7h-1zM1010 290.8h1V296.2h-1zM1011 290.8h1V296.2h-1zM1012 290.8h1V296.2h-1zM1013 290.8h1V296.2h-1zM1014 290.8h1V296.2h-1zM1015 290.8h1V296.2h-1z"/>
<path fill="#d200d2" d="M17 474.9h1V483.7h-1zM18 474.9h1V480.7h-1zM19 474.9h1V483.7h-1zM20 474.9h1V484.7h-1zM21 474.9h1V483.7h-1zM22 471.9h1V482.7h-1zM23 474.9h1V484.7h-1zM24 474.9h1V484.7h-1zM25 474.9h1V483.7h-1zM26 474.9h1V483.7h-1zM27 474.9h1V483.7h-1zM28 474.9h1V484.7h-1zM29 471.9h1V484.7h-1zM30 471.9h1V483.7h-1zM31 474.9h1V484.7h-1zM32 474.9h1V484.7h-1zM33 474.9h1V483.7h-1zM34 471.9h1V483.7h-1zM35 474.9h1V486.7h-1zM36 471.9h1V488.0h-1zM37 478.7h1V492.4h-1zM38 483.8h1V499.7h-1zM39 491.2h1V507.1h-1zM40 498.5h1V514.4h-1zM41 505.9h1V521.8h-1zM42 513.2h1V529.1h-1zM43 520.6h1V536.4h-1zM44 527.9h1V543.8h-1zM45 535.2h1V551.1h-1zM46 542.6h1V556.5h-1zM47 547.5h1V556.5h-1zM48 547.5h1V557.5h-1zM49 547.5h1V556.5h-1zM50 548.5h1V556.5h-1zM51 547.5h1V556.5h-1zM52 545.5h1V556.5h-1zM53 547.5h1V557.5h-1zM54 547.5h1V556.5h-1zM55 547.5h1V556.5h-1zM56 547.5h1V556.5h-1zM57 547.5h1V556.5h-1zM58 547.5h1V557.5h-1zM59 547.5h1V557.5h-1zM60 544.5h1V557.5h-1zM61 547.5h1V556.5h-1zM62 548.5h1V556.5h-1zM63 547.5h1V556.5h-1zM64 547.5h1V556.5h-1zM65 547.5h1V556.5h-1zM66 547.5h1V556.5h-1zM67 547.5h1V556.5h-1zM68 547.5h1V558.5h-1zM69 547.5h1V558.5h-1zM70 547.5h1V556.5h-1zM71 547.5h1V556.5h-1zM72 545.5h1V556.5h-1zM73 547.5h1V556.5h-1zM74 545.5h1V556.5h-1zM75 547.5h1V559.5h-1zM76 547.5h1V559.5h-1zM77 547.5h1V559.4h-1zM78 551.4h1V564.3h-1zM79 556.2h1V571.2h-1zM80 563.1h1V578.1h-1zM81 570.0h1V582.9h-1zM82 574.9h1V587.2h-1zM83 576.8h1V590.2h-1zM84 575.8h1V587.2h-1zM85 575.8h1V584.2h-1zM86 578.8h1V587.2h-1zM87 578.8h1V590.2h-1zM88 579.8h1V590.2h-1zM89 579.8h1V587.2h-1zM90 578.8h1V587.2h-1zM91 578.8h1V587.2h-1zM92 578.8h1V589.2h-1zM93 578.8h1V589.2h-1zM94 578.8h1V588.2h-1zM95 578.8h1V588.2h-1zM96 578.8h1V587.2h-1zM97 578.8h1V587.2h-1zM98 578.8h1V587.2h-1zM99 578.8h1V587.2h-1zM100 575.8h1V587.2h-1zM101 578.8h1V589.2h-1zM102 578.8h1V588.2h-1zM103 578.8h1V587.2h-1zM104 578.8h1V587.2h-1zM105 576.8h1V587.2h-1zM106 578.8h1V587.2h-1zM107 577.8h1V587.2h-1zM108 578.8h1V587.2h-1zM109 578.8h1V587.2h-1zM110 578.8h1V585.2h-1zM111 576.8h1V585.2h-1zM112 578.8h1V590.2h-1zM113 578.8h1V590.2h-1zM114 578.8h1V587.2h-1zM115 577.6h1V587.2h-1zM116 577.5h1V586.1h-1zM117 574.0h1V587.1h-1zM118 574.0h1V584.6h-1zM119 570.5h1V584.6h-1zM120 572.5h1V579.1h-1zM121 567.0h1V582.1h-1zM122 567.0h1V578.6h-1zM123 563.5h1V575.6h-1zM124 563.5h1V572.1h-1zM125 560.1h1V573.1h-1zM126 560.1h1V569.7h-1zM127 556.6h1V568.7h-1zM128 556.6h1V567.2h-1zM129 550.1h1V567.2h-1zM130 550.1h1V561.7h-1zM131 549.6h1V561.7h-1zM132 549.6h1V560.2h-1zM133 548.0h1V558.4h-1zM134 545.0h1V557.0h-1zM135 545.0h1V556.0h-1zM136 545.0h1V556.0h-1zM137 548.0h1V557.0h-1zM138 546.0h1V557.0h-1zM139 549.0h1V557.0h-1zM140 548.0h1V557.0h-1zM141 548.0h1V557.0h-1zM142 548.0h1V557.0h-1zM143 546.0h1V557.0h-1zM144 546.0h1V557.0h-1zM145 548.0h1V557.0h-1zM146 548.0h1V557.0h-1zM147 548.0h1V557.0h-1zM148 546.0h1V557.0h-1zM149 546.0h1V557.0h-1zM150 545.0h1V559.0h-1zM151 548.0h1V559.0h-1zM152 548.0h1V557.0h-1zM153 548.0h1V557.0h-1zM154 544.9h1V560.0h-1zM155 537.4h1V553.1h-1zM156 528.9h1V547.1h-1zM157 520.4h1V538.6h-1zM158 511.9h1V530.1h-1zM159 503.4h1V521.6h-1zM160 494.9h1V513.1h-1zM161 486.4h1V504.6h-1zM162 479.6h1V496.1h-1zM163 474.9h1V484.6h-1zM164 473.9h1V483.7h-1zM165 474.9h1V482.7h-1zM166 471.9h1V482.7h-1zM167 474.9h1V483.7h-1zM168 474.9h1V480.7h-1zM169 474.9h1V480.7h-1zM170 474.9h1V483.7h-1zM171 472.9h1V480.7h-1zM172 474.9h1V482.7h-1zM173 474.9h1V483.7h-1zM174 474.9h1V483.7h-1zM175 472.9h1V483.7h-1zM176 474.9h1V483.7h-1zM177 474.9h1V482.7h-1zM178 474.9h1V486.7h-1zM179 474.9h1V484.7h-1zM180 473.9h1V483.7h-1zM181 473.9h1V483.7h-1zM182 474.9h1V483.7h-1zM183 474.9h1V483.7h-1zM184 474.9h1V483.7h-1zM185 474.9h1V483.7h-1zM186 474.9h1V486.7h-1zM187 474.9h1V483.7h-1zM188 474.9h1V483.7h-1zM189 473.9h1V483.7h-1zM190 473.9h1V483.7h-1zM191 474.9h1V480.7h-1zM192 474.9h1V483.7h-1zM193 474.9h1V486.7h-1zM194 474.9h1V483.7h-1zM195 468.3h1V483.7h-1zM196 460.9h1V476.9h-1zM197 453.4h1V469.5h-1zM198 446.0h1V462.1h-1zM199 438.6h1V454.6h-1zM200 431.1h1V447.2h-1zM201 423.7h1V439.8h-1zM202 416.3h1V432.3h-1zM203 408.9h1V424.9h-1zM204 404.4h1V417.5h-1zM205 399.7h1V407.3h-1zM206 399.7h1V407.3h-1zM207 396.7h1V408.3h-1zM208 396.7h1V410.3h-1zM209 396.7h1V410.3h-1zM210 399.7h1V410.3h-1zM211 399.7h1V409.3h-1zM212 399.7h1V409.3h-1zM213 399.7h1V408.3h-1zM214 396.7h1V413.3h-1zM215 396.7h1V413.3h-1zM216 399.7h1V410.3h-1zM217 399.7h1V412.3h-1zM218 399.7h1V410.3h-1zM219 399.7h1V410.3h-1zM220 399.7h1V410.3h-1zM221 399.7h1V410.3h-1zM222 399.7h1V410.3h-1zM223 399.7h1V410.3h-1zM224 397.7h1V410.3h-1zM225 399.7h1V410.3h-1zM226 399.7h1V410.3h-1zM227 396.7h1V410.3h-1zM228 396.7h1V407.3h-1zM229 398.7h1V410.3h-1zM230 399.7h1V410.3h-1zM231 399.7h1V410.3h-1zM232 399.7h1V410.3h-1zM233 400.7h1V410.3h-1zM234 399.7h1V410.3h-1zM235 399.7h1V413.3h-1zM236 395.3h1V410.3h-1zM237 389.3h1V402.6h-1zM238 383.2h1V396.5h-1zM239 377.1h1V390.5h-1zM240 374.1h1V384.4h-1zM241 369.4h1V380.0h-1zM242 369.4h1V380.0h-1zM243 369.4h1V380.0h-1zM244 366.4h1V380.0h-1zM245 369.4h1V377.0h-1zM246 366.4h1V380.0h-1zM247 369.4h1V377.0h-1zM248 369.4h1V380.0h-1zM249 369.4h1V380.0h-1zM250 369.4h1V383.0h-1zM251 369.4h1V383.0h-1zM252 369.4h1V383.0h-1zM253 369.4h1V380.0h-1zM254 369.4h1V380.0h-1zM255 369.4h1V380.0h-1zM256 369.4h1V379.0h-1zM257 369.4h1V380.0h-1zM258 369.4h1V380.0h-1zM259 370.4h1V380.0h-1zM260 367.4h1V380.0h-1zM261 369.4h1V379.0h-1zM262 369.4h1V379.0h-1zM263 366.4h1V380.0h-1zM264 369.4h1V380.0h-1zM265 369.4h1V380.0h-1zM266 367.4h1V380.0h-1zM267 369.4h1V383.0h-1zM268 367.4h1V383.0h-1zM269 371.4h1V380.0h-1zM270 369.4h1V380.0h-1zM271 369.4h1V381.0h-1zM272 367.4h1V381.0h-1zM273 369.4h1V380.8h-1zM274 370.2h1V380.8h-1zM275 370.2h1V383.9h-1zM276 374.3h1V383.9h-1zM277 371.3h1V388.0h-1zM278 376.4h1V387.0h-1zM279 376.4h1V390.1h-1zM280 381.5h1V390.1h-1zM281 379.5h1V391.2h-1zM282 382.6h1V391.2h-1zM283 381.6h1V396.3h-1zM284 384.7h1V396.3h-1zM285 385.7h1V402.4h-1zM286 388.8h1V399.4h-1zM287 388.8h1V402.5h-1zM288 391.9h1V402.5h-1zM289 391.9h1V407.6h-1zM290 392.0h1V405.6h-1zM291 392.0h1V408.7h-1zM292 398.1h1V408.7h-1zM293 398.1h1V410.3h-1zM294 399.7h1V410.3h-1zM295 397.7h1V410.3h-1zM296 399.7h1V410.3h-1zM297 399.7h1V411.3h-1zM298 401.7h1V410.3h-1zM299 399.7h1V410.3h-1zM300 399.7h1V410.3h-1zM301 397.7h1V410.3h-1zM302 397.7h1V410.3h-1zM303 397.7h1V410.3h-1zM304 397.7h1V407.3h-1zM305 397.7h1V410.3h-1zM306 396.7h1V410.3h-1zM307 396.7h1V410.3h-1zM308 399.7h1V410.3h-1zM309 399.7h1V409.3h-1zM310 399.7h1V410.3h-1zM311 397.7h1V410.3h-1zM312 397.7h1V410.3h-1zM313 399.7h1V413.3h-1zM314 399.7h1V414.0h-1zM315 405.3h1V419.9h-1zM316 409.8h1V428.9h-1zM317 418.7h1V437.8h-1zM318 427.7h1V446.8h-1zM319 436.6h1V455.7h-1zM320 445.6h1V464.7h-1zM321 454.5h1V473.6h-1zM322 463.5h1V479.9h-1zM323 472.4h1V480.7h-1zM324 474.9h1V480.7h-1zM325 474.9h1V483.7h-1zM326 472.9h1V483.7h-1zM327 474.9h1V483.7h-1zM328 474.9h1V482.7h-1zM329 474.9h1V483.7h-1zM330 472.9h1V481.7h-1zM331 472.9h1V481.7h-1zM332 471.9h1V481.7h-1zM333 471.9h1V480.7h-1zM334 474.9h1V480.7h-1zM335 472.9h1V485.7h-1zM336 471.9h1V485.7h-1zM337 471.9h1V483.7h-1zM338 471.9h1V483.7h-1zM339 474.9h1V486.7h-1zM340 474.9h1V486.7h-1zM341 474.9h1V483.7h-1zM342 474.9h1V483.7h-1zM343 474.9h1V483.7h-1zM344 474.9h1V483.7h-1zM345 474.9h1V483.7h-1zM346 473.9h1V482.7h-1zM347 474.9h1V483.7h-1zM348 474.9h1V483.7h-1zM349 474.9h1V483.7h-1zM350 474.9h1V483.7h-1zM351 474.9h1V483.7h-1zM352 474.9h1V485.7h-1zM353 474.9h1V485.7h-1zM354 471.9h1V483.7h-1zM355 474.9h1V488.7h-1zM356 480.2h1V496.1h-1zM357 487.5h1V503.4h-1zM358 494.9h1V510.7h-1zM359 502.2h1V518.1h-1zM360 509.5h1V525.4h-1zM361 516.9h1V532.8h-1zM362 524.2h1V540.1h-1zM363 531.6h1V547.5h-1zM364 538.9h1V552.6h-1zM365 546.3h1V556.5h-1zM366 547.5h1V556.5h-1zM367 547.5h1V556.5h-1zM368 547.5h1V556.5h-1zM369 545.5h1V557.5h-1zM370 546.5h1V557.5h-1zM371 546.5h1V556.5h-1zM372 547.5h1V556.5h-1zM373 547.5h1V556.5h-1zM374 547.5h1V553.5h-1zM375 547.5h1V553.5h-1zM376 547.5h1V553.5h-1zM377 547.5h1V557.5h-1zM378 547.5h1V557.5h-1zM379 545.5h1V556.5h-1zM380 547.5h1V554.5h-1zM381 547.5h1V554.5h-1zM382 546.5h1V559.5h-1zM383 547.5h1V559.5h-1zM384 547.5h1V557.5h-1zM385 547.5h1V557.5h-1zM386 544.5h1V553.5h-1zM387 545.5h1V556.5h-1zM388 545.5h1V556.5h-1zM389 547.5h1V556.5h-1zM390 547.5h1V558.5h-1zM391 547.5h1V558.5h-1zM392 547.5h1V556.5h-1zM393 547.5h1V556.5h-1zM394 547.5h1V556.5h-1zM395 546.5h1V557.5h-1zM396 547.5h1V560.9h-1zM397 552.8h1V567.8h-1zM398 559.7h1V574.6h-1zM399 566.6h1V581.5h-1zM400 573.4h1V587.2h-1zM401 576.8h1V587.2h-1zM402 579.8h1V586.2h-1zM403 578.8h1V587.2h-1zM404 578.8h1V587.2h-1zM405 578.8h1V587.2h-1zM406 578.8h1V584.2h-1zM407 578.8h1V584.2h-1zM408 578.8h1V586.2h-1zM409 576.8h1V587.2h-1zM410 576.8h1V590.2h-1zM411 578.8h1V587.2h-1zM412 575.8h1V587.2h-1zM413 578.8h1V587.2h-1zM414 578.8h1V587.2h-1zM415 577.8h1V587.2h-1zM416 578.8h1V585.2h-1zM417 579.8h1V587.2h-1zM418 578.8h1V587.2h-1zM419 578.8h1V587.2h-1zM420 576.8h1V587.2h-1zM421 578.8h1V587.2h-1zM422 578.8h1V587.2h-1zM423 578.8h1V587.2h-1zM424 578.8h1V589.2h-1zM425 578.8h1V589.2h-1zM426 578.8h1V589.2h-1zM427 576.8h1V589.2h-1zM428 578.8h1V587.2h-1zM429 580.8h1V587.2h-1zM430 578.8h1V587.2h-1zM431 578.8h1V587.2h-1zM432 579.8h1V588.2h-1zM433 578.5h1V590.2h-1zM434 576.4h1V590.0h-1zM435 571.9h1V587.0h-1zM436 571.9h1V583.5h-1zM437 571.4h1V583.5h-1zM438 571.4h1V580.0h-1zM439 567.9h1V580.0h-1zM440 567.9h1V576.5h-1zM441 562.4h1V576.5h-1zM442 564.4h1V573.0h-1zM443 560.9h1V573.0h-1zM444 559.9h1V569.5h-1zM445 557.4h1V569.5h-1zM446 557.4h1V569.0h-1zM447 554.0h1V566.0h-1zM448 551.0h1V562.6h-1zM449 549.5h1V562.6h-1zM450 550.5h1V559.1h-1zM451 548.2h1V559.1h-1zM452 548.0h1V557.0h-1zM453 548.0h1V557.0h-1zM454 548.0h1V555.0h-1zM455 548.0h1V557.0h-1zM456 545.0h1V557.0h-1zM457 548.0h1V557.0h-1zM458 548.0h1V554.0h-1zM459 548.0h1V555.0h-1zM460 547.0h1V555.0h-1zM461 548.0h1V557.0h-1zM462 550.0h1V554.0h-1zM463 548.0h1V557.0h-1zM464 548.0h1V557.0h-1zM465 546.0h1V557.0h-1zM466 547.0h1V557.0h-1zM467 548.0h1V557.0h-1zM468 548.0h1V559.0h-1zM469 545.0h1V560.0h-1zM470 545.0h1V560.0h-1zM471 546.0h1V557.0h-1zM472 548.0h1V557.0h-1zM473 541.7h1V557.0h-1zM474 533.2h1V551.4h-1zM475 524.7h1V542.9h-1zM476 516.2h1V534.4h-1zM477 507.6h1V525.9h-1zM478 499.1h1V517.4h-1zM479 490.6h1V508.8h-1zM480 482.1h1V500.3h-1zM481 474.9h1V491.8h-1zM482 474.9h1V483.7h-1zM483 474.9h1V483.7h-1zM484 474.9h1V485.7h-1zM485 475.9h1V485.7h-1zM486 472.9h1V483.7h-1zM487 472.9h1V483.7h-1zM488 474.9h1V484.7h-1zM489 474.9h1V483.7h-1zM490 476.9h1V483.7h-1zM491 472.9h1V486.7h-1zM492 474.9h1V485.7h-1zM493 474.9h1V485.7h-1zM494 474.9h1V483.7h-1zM495 471.9h1V483.7h-1zM496 472.9h1V483.7h-1zM497 474.9h1V483.7h-1zM498 474.9h1V482.7h-1zM499 471.9h1V485.7h-1zM500 474.9h1V485.7h-1zM501 474.9h1V483.7h-1zM502 472.9h1V483.7h-1zM503 472.9h1V486.7h-1zM504 474.9h1V483.7h-1zM505 474.9h1V483.7h-1zM506 474.9h1V483.7h-1zM507 474.9h1V483.7h-1zM508 473.9h1V481.7h-1zM509 474.9h1V483.7h-1zM510 474.9h1V483.7h-1zM511 474.9h1V484.7h-1zM512 472.9h1V480.7h-1zM513 472.0h1V483.7h-1zM514 464.6h1V479.2h-1zM515 457.2h1V473.2h-1zM516 449.7h1V465.8h-1zM517 442.3h1V458.4h-1zM518 434.9h1V450.9h-1zM519 427.4h1V443.5h-1zM520 420.0h1V436.1h-1zM521 412.6h1V428.6h-1zM522 405.1h1V421.2h-1zM523 399.7h1V413.8h-1zM524 397.7h1V410.3h-1zM525 396.7h1V410.3h-1zM526 399.7h1V410.3h-1zM527 399.7h1V410.3h-1zM528 399.7h1V411.3h-1zM529 396.7h1V413.3h-1zM530 396.7h1V413.3h-1zM531 399.7h1V410.3h-1zM532 398.7h1V410.3h-1zM533 398.7h1V410.3h-1zM534 399.7h1V410.3h-1zM535 399.7h1V412.3h-1zM536 399.7h1V412.3h-1zM537 399.7h1V410.3h-1zM538 399.7h1V410.3h-1zM539 399.7h1V410.3h-1zM540 399.7h1V410.3h-1zM541 399.7h1V410.3h-1zM542 399.7h1V408.3h-1zM543 399.7h1V408.3h-1zM544 399.7h1V410.3h-1zM545 398.7h1V407.3h-1zM546 398.7h1V410.3h-1zM547 399.7h1V410.3h-1zM548 400.7h1V407.3h-1zM549 400.7h1V411.3h-1zM550 399.7h1V411.3h-1zM551 398.7h1V410.3h-1zM552 398.7h1V407.3h-1zM553 399.7h1V413.3h-1zM554 398.3h1V410.3h-1zM555 392.3h1V405.6h-1zM556 386.2h1V399.5h-1zM557 380.2h1V393.5h-1zM558 374.7h1V387.4h-1zM559 367.4h1V381.4h-1zM560 369.4h1V382.0h-1zM561 369.4h1V382.0h-1zM562 369.4h1V380.0h-1zM563 369.4h1V380.0h-1zM564 369.4h1V380.0h-1zM565 369.4h1V377.0h-1zM566 369.4h1V380.0h-1zM567 369.4h1V380.0h-1zM568 369.4h1V380.0h-1zM569 369.4h1V383.0h-1zM570 367.4h1V383.0h-1zM571 369.4h1V383.0h-1zM572 369.4h1V380.0h-1zM573 369.4h1V380.0h-1zM574 369.4h1V380.0h-1zM575 369.4h1V377.0h-1zM576 367.4h1V380.0h-1zM577 369.4h1V379.0h-1zM578 369.4h1V380.0h-1zM579 369.4h1V380.0h-1zM580 369.4h1V380.0h-1zM581 369.4h1V380.0h-1zM582 369.4h1V380.0h-1zM583 369.4h1V380.0h-1zM584 369.4h1V380.0h-1zM585 369.4h1V380.0h-1zM586 369.4h1V380.0h-1zM587 369.4h1V378.0h-1zM588 367.4h1V380.0h-1zM589 369.4h1V380.0h-1zM590 369.4h1V380.0h-1zM591 369.4h1V380.0h-1zM592 369.4h1V380.0h-1zM593 367.4h1V383.1h-1zM594 370.5h1V383.1h-1zM595 372.5h1V386.2h-1zM596 375.6h1V386.2h-1zM597 375.6h1V389.3h-1zM598 378.7h1V387.3h-1zM599 376.7h1V392.4h-1zM600 381.8h1V392.4h-1zM601 381.8h1V395.5h-1zM602 384.9h1V395.5h-1zM603 381.9h1V398.6h-1zM604 387.0h1V395.6h-1zM605 388.0h1V403.8h-1zM606 391.2h1V401.8h-1zM607 391.2h1V404.9h-1zM608 394.3h1V404.9h-1zM609 394.3h1V407.0h-1zM610 397.4h1V407.0h-1zM611 397.4h1V410.3h-1zM612 399.7h1V410.3h-1zM613 396.7h1V407.3h-1zM614 399.7h1V410.3h-1zM615 400.7h1V407.3h-1zM616 399.7h1V407.3h-1zM617 399.7h1V410.3h-1zM618 399.7h1V410.3h-1zM619 400.7h1V410.3h-1zM620 399.7h1V410.3h-1zM621 399.7h1V412.3h-1zM622 397.7h1V412.3h-1zM623 399.7h1V410.3h-1zM624 399.7h1V410.3h-1zM625 399.7h1V410.3h-1zM626 399.7h1V410.3h-1zM627 396.7h1V410.3h-1zM628 399.7h1V410.3h-1zM629 399.7h1V410.3h-1zM630 397.7h1V410.3h-1zM631 397.7h1V412.3h-1zM632 399.7h1V412.3h-1zM633 399.7h1V415.4h-1zM634 405.3h1V424.4h-1zM635 414.2h1V433.4h-1zM636 423.2h1V442.3h-1zM637 432.2h1V451.3h-1zM638 441.1h1V460.2h-1zM639 450.1h1V469.2h-1zM640 459.0h1V478.1h-1zM641 468.0h1V483.7h-1zM642 474.9h1V483.7h-1zM643 472.9h1V486.7h-1zM644 472.9h1V486.7h-1zM645 474.9h1V483.7h-1zM646 472.9h1V483.7h-1zM647 474.9h1V483.7h-1zM648 474.9h1V483.7h-1zM649 474.9h1V483.7h-1zM650 472.9h1V484.7h-1zM651 474.9h1V484.7h-1zM652 474.9h1V482.7h-1zM653 472.9h1V483.7h-1zM654 474.9h1V483.7h-1zM655 474.9h1V483.7h-1zM656 474.9h1V483.7h-1zM657 474.9h1V483.7h-1zM658 472.9h1V483.7h-1zM659 472.9h1V483.7h-1zM660 474.9h1V483.7h-1zM661 474.9h1V484.7h-1zM662 474.9h1V484.7h-1zM663 474.9h1V483.7h-1zM664 474.9h1V483.7h-1zM665 474.9h1V483.7h-1zM666 474.9h1V483.7h-1zM667 474.9h1V483.7h-1zM668 474.9h1V486.7h-1zM669 474.9h1V486.7h-1zM670 472.9h1V483.7h-1zM671 474.9h1V483.7h-1zM672 471.9h1V483.7h-1zM673 474.9h1V485.0h-1zM674 478.7h1V492.4h-1zM675 483.8h1V499.7h-1zM676 491.2h1V507.1h-1zM677 498.5h1V514.4h-1zM678 505.9h1V521.8h-1zM679 513.2h1V529.1h-1zM680 520.6h1V536.4h-1zM681 527.9h1V543.8h-1zM682 535.2h1V551.1h-1zM683 542.6h1V556.5h-1zM684 547.5h1V556.5h-1zM685 547.5h1V556.5h-1zM686 547.5h1V559.5h-1zM687 546.5h1V557.5h-1zM688 546.5h1V558.5h-1zM689 548.5h1V558.5h-1zM690 545.5h1V553.5h-1zM691 545.5h1V556.5h-1zM692 547.5h1V556.5h-1zM693 547.5h1V558.5h-1zM694 545.5h1V556.5h-1zM695 545.5h1V556.5h-1zM696 547.5h1V556.5h-1zM697 547.5h1V556.5h-1zM698 547.5h1V558.5h-1zM699 545.5h1V556.5h-1zM700 547.5h1V558.5h-1zM701 547.5h1V558.5h-1zM702 547.5h1V556.5h-1zM703 547.5h1V558.5h-1zM704 547.5h1V558.5h-1zM705 547.5h1V558.5h-1zM706 547.5h1V556.5h-1zM707 547.5h1V559.5h-1zM708 547.5h1V556.5h-1zM709 546.5h1V556.5h-1zM710 546.5h1V556.5h-1zM711 547.5h1V555.5h-1zM712 547.5h1V555.5h-1zM713 547.5h1V555.5h-1zM714 547.5h1V557.4h-1zM715 551.4h1V564.3h-1zM716 556.2h1V571.2h-1zM717 563.1h1V578.1h-1zM718 570.0h1V582.9h-1zM719 576.9h1V588.2h-1zM720 576.8h1V590.2h-1zM721 578.8h1V590.2h-1zM722 578.8h1V587.2h-1zM723 578.8h1V590.2h-1zM724 578.8h1V587.2h-1zM725 575.8h1V584.2h-1zM726 578.8h1V587.2h-1zM727 575.8h1V587.2h-1zM728 578.8h1V587.2h-1zM729 578.8h1V584.2h-1zM730 578.8h1V585.2h-1zM731 578.8h1V585.2h-1zM732 578.8h1V587.2h-1zM733 578.8h1V587.2h-1zM734 575.8h1V587.2h-1zM735 575.8h1V587.2h-1zM736 578.8h1V587.2h-1zM737 578.8h1V586.2h-1zM738 578.8h1V587.2h-1zM739 578.8h1V587.2h-1zM740 578.8h1V584.2h-1zM741 578.8h1V587.2h-1zM742 578.8h1V587.2h-1zM743 578.8h1V587.2h-1zM744 578.8h1V587.2h-1zM745 576.8h1V587.2h-1zM746 575.8h1V585.2h-1zM747 578.8h1V585.2h-1zM748 578.8h1V587.2h-1zM749 578.8h1V588.2h-1zM750 578.8h1V588.2h-1zM751 578.8h1V587.2h-1zM752 578.8h1V587.2h-1zM753 575.7h1V587.3h-1zM754 575.7h1V584.3h-1zM755 572.3h1V584.3h-1zM756 572.3h1V580.9h-1zM757 570.8h1V580.9h-1zM758 568.8h1V577.4h-1zM759 565.3h1V577.4h-1zM760 565.3h1V572.9h-1zM761 558.8h1V573.9h-1zM762 561.8h1V570.4h-1zM763 555.3h1V570.4h-1zM764 558.3h1V566.9h-1zM765 554.8h1V566.9h-1zM766 554.8h1V562.4h-1zM767 551.3h1V562.4h-1zM768 551.3h1V558.9h-1zM769 548.2h1V559.9h-1zM770 548.0h1V557.0h-1zM771 548.0h1V557.0h-1zM772 548.0h1V557.0h-1zM773 545.0h1V557.0h-1zM774 545.0h1V558.0h-1zM775 548.0h1V558.0h-1zM776 548.0h1V557.0h-1zM777 548.0h1V557.0h-1zM778 548.0h1V557.0h-1zM779 548.0h1V557.0h-1zM780 548.0h1V557.0h-1zM781 548.0h1V557.0h-1zM782 547.0h1V557.0h-1zM783 547.0h1V557.0h-1zM784 548.0h1V557.0h-1zM785 548.0h1V557.0h-1zM786 550.0h1V557.0h-1zM787 548.0h1V557.0h-1zM788 547.0h1V555.0h-1zM789 547.0h1V555.0h-1zM790 547.0h1V557.0h-1zM791 543.9h1V557.0h-1zM792 537.4h1V553.1h-1zM793 528.9h1V547.1h-1zM794 520.4h1V538.6h-1zM795 511.9h1V530.1h-1zM796 503.4h1V521.6h-1zM797 494.9h1V513.1h-1zM798 486.4h1V504.6h-1zM799 478.7h1V496.1h-1zM800 471.9h1V487.6h-1zM801 474.9h1V483.7h-1zM802 474.9h1V483.7h-1zM803 474.9h1V483.7h-1zM804 476.9h1V480.7h-1zM805 474.9h1V483.7h-1zM806 474.9h1V486.7h-1zM807 473.9h1V480.7h-1zM808 473.9h1V483.7h-1zM809 474.9h1V480.7h-1zM810 474.9h1V480.7h-1zM811 471.9h1V482.7h-1zM812 471.9h1V483.7h-1zM813 471.9h1V480.7h-1zM814 474.9h1V484.7h-1zM815 471.9h1V484.7h-1zM816 471.9h1V483.7h-1zM817 474.9h1V483.7h-1zM818 472.9h1V483.7h-1zM819 472.9h1V483.7h-1zM820 474.9h1V483.7h-1zM821 474.9h1V486.7h-1zM822 474.9h1V486.7h-1zM823 474.9h1V483.7h-1zM824 474.9h1V483.7h-1zM825 476.9h1V483.7h-1zM826 474.9h1V483.7h-1zM827 474.9h1V484.7h-1zM828 474.9h1V483.7h-1zM829 474.9h1V484.7h-1zM830 474.9h1V483.7h-1zM831 474.9h1V483.7h-1zM832 468.3h1V483.7h-1zM833 460.9h1V476.9h-1zM834 453.4h1V469.5h-1zM835 446.0h1V462.1h-1zM836 438.6h1V454.6h-1zM837 431.1h1V447.2h-1zM838 423.7h1V439.8h-1zM839 416.3h1V432.3h-1zM840 408.9h1V424.9h-1zM841 404.4h1V417.5h-1zM842 396.7h1V410.3h-1zM843 396.7h1V410.3h-1zM844 399.7h1V410.3h-1zM845 399.7h1V410.3h-1zM846 399.7h1V410.3h-1zM847 399.7h1V407.3h-1zM848 399.7h1V410.3h-1zM849 399.7h1V410.3h-1zM850 399.7h1V412.3h-1zM851 399.7h1V413.3h-1zM852 399.7h1V413.3h-1zM853 399.7h1V410.3h-1zM854 399.7h1V410.3h-1zM855 399.7h1V410.3h-1zM856 399.7h1V413.3h-1zM857 399.7h1V409.3h-1zM858 397.7h1V409.3h-1zM859 397.7h1V410.3h-1zM860 399.7h1V410.3h-1zM861 399.7h1V407.3h-1zM862 396.7h1V407.3h-1zM863 396.7h1V410.3h-1zM864 399.7h1V410.3h-1zM865 399.7h1V410.3h-1zM866 399.7h1V410.3h-1zM867 399.7h1V408.3h-1zM868 398.7h1V412.3h-1zM869 399.7h1V410.3h-1zM870 399.7h1V407.3h-1zM871 399.7h1V413.3h-1zM872 399.7h1V413.3h-1zM873 395.3h1V405.6h-1zM874 389.2h1V402.6h-1zM875 383.2h1V396.5h-1zM876 377.1h1V390.4h-1zM877 369.4h1V384.4h-1zM878 369.4h1V380.0h-1zM879 369.4h1V380.0h-1zM880 369.4h1V380.0h-1zM881 369.4h1V379.0h-1zM882 367.4h1V380.0h-1zM883 369.4h1V380.0h-1zM884 369.4h1V380.0h-1zM885 369.4h1V382.0h-1zM886 367.4h1V382.0h-1zM887 369.4h1V380.0h-1zM888 369.4h1V378.0h-1zM889 369.4h1V380.0h-1zM890 367.4h1V381.0h-1zM891 369.4h1V381.0h-1zM892 369.4h1V380.0h-1zM893 366.4h1V380.0h-1zM894 366.4h1V380.0h-1zM895 369.4h1V380.0h-1zM896 366.4h1V380.0h-1zM897 366.4h1V380.0h-1zM898 369.4h1V380.0h-1zM899 366.4h1V380.0h-1zM900 369.4h1V380.0h-1zM901 369.4h1V379.0h-1zM902 369.4h1V383.0h-1zM903 366.4h1V380.0h-1zM904 368.4h1V380.0h-1zM905 370.4h1V380.0h-1zM906 368.4h1V379.0h-1zM907 368.4h1V379.0h-1zM908 369.4h1V377.0h-1zM909 369.4h1V377.0h-1zM910 369.4h1V377.0h-1zM911 369.4h1V382.3h-1zM912 371.7h1V385.3h-1zM913 371.7h1V388.4h-1zM914 373.8h1V386.4h-1zM915 374.8h1V390.5h-1zM916 377.9h1V388.5h-1zM917 377.9h1V391.7h-1zM918 378.1h1V391.7h-1zM919 381.1h1V394.8h-1zM920 384.2h1V394.8h-1zM921 384.2h1V394.9h-1zM922 387.3h1V394.9h-1zM923 387.3h1V401.0h-1zM924 390.4h1V401.0h-1zM925 390.4h1V404.1h-1zM926 393.5h1V404.1h-1zM927 393.5h1V407.2h-1zM928 396.6h1V407.2h-1zM929 396.6h1V410.3h-1zM930 399.7h1V413.3h-1zM931 400.7h1V410.3h-1zM932 399.7h1V411.3h-1zM933 399.7h1V407.3h-1zM934 399.7h1V410.3h-1zM935 399.7h1V408.3h-1zM936 397.7h1V410.3h-1zM937 397.7h1V410.3h-1zM938 401.7h1V410.3h-1zM939 399.7h1V408.3h-1zM940 396.7h1V407.3h-1zM941 396.7h1V412.3h-1zM942 399.7h1V410.3h-1zM943 397.7h1V407.3h-1zM944 397.7h1V410.3h-1zM945 399.7h1V411.3h-1zM946 399.7h1V410.3h-1zM947 399.7h1V408.3h-1zM948 399.7h1V410.3h-1zM949 398.7h1V412.3h-1zM950 396.7h1V411.3h-1zM951 396.7h1V412.0h-1zM952 405.3h1V419.9h-1zM953 409.8h1V428.9h-1zM954 418.7h1V437.8h-1zM955 427.7h1V446.8h-1zM956 436.6h1V455.7h-1zM957 445.6h1V464.7h-1zM958 454.5h1V473.6h-1zM959 463.5h1V479.0h-1zM960 472.4h1V483.7h-1zM961 474.9h1V485.7h-1zM962 474.9h1V485.7h-1zM963 474.9h1V485.7h-1zM964 474.9h1V485.7h-1zM965 474.9h1V480.7h-1zM966 474.9h1V480.7h-1zM967 474.9h1V483.7h-1zM968 474.9h1V481.7h-1zM969 474.9h1V485.7h-1zM970 472.9h1V480.7h-1zM971 474.9h1V486.7h-1zM972 474.9h1V483.7h-1zM973 474.9h1V483.7h-1zM974 474.9h1V480.7h-1zM975 472.9h1V483.7h-1zM976 471.9h1V483.7h-1zM977 474.9h1V483.7h-1zM978 473.9h1V484.7h-1zM979 473.9h1V484.7h-1zM980 474.9h1V483.7h-1zM981 474.9h1V483.7h-1zM982 474.9h1V485.7h-1zM983 474.9h1V483.7h-1zM984 471.9h1V480.7h-1zM985 474.9h1V480.7h-1zM986 476.9h1V481.7h-1zM987 474.9h1V483.7h-1zM988 474.9h1V483.7h-1zM989 474.9h1V480.7h-1zM990 474.9h1V483.7h-1zM991 471.9h1V483.7h-1zM992 474.9h1V488.7h-1zM993 480.2h1V496.1h-1zM994 487.5h1V503.4h-1zM995 494.9h1V510.7h-1zM996 502.2h1V518.1h-1zM997 509.5h1V525.4h-1zM998 516.9h1V532.8h-1zM999 524.2h1V540.1h-1zM1000 531.6h1V547.5h-1zM1001 538.9h1V551.9h-1zM1002 546.3h1V556.5h-1zM1003 547.5h1V556.5h-1zM1004 547.5h1V556.5h-1zM1005 547.5h1V556.5h-1zM1006 547.5h1V556.5h-1zM1007 547.5h1V553.5h-1zM1008 547.5h1V556.5h-1zM1009 547.5h1V556.5h-1zM1010 547.5h1V556.5h-1zM1011 547.5h1V556.5h-1zM1012 547.5h1V556.5h-1zM1013 547.5h1V556.5h-1zM1014 547.5h1V556.5h-1zM1015 545.5h1V556.5h-1z"/>
<path fill="#fc00fc" d="M17 476.2h1V481.2h-1zM18 476.2h1V480.7h-1zM19 476.2h1V481.2h-1zM20 476.2h1V481.2h-1zM21 476.2h1V481.2h-1zM22 476.2h1V481.2h-1zM23 476.2h1V481.2h-1zM24 476.2h1V481.2h-1zM25 476.2h1V481.2h-1zM26 476.2h1V481.2h-1zM27 476.2h1V481.2h-1zM28 476.2h1V481.2h-1zM29 476.2h1V481.2h-1zM30 476.2h1V481.2h-1zM31 476.2h1V481.2h-1zM32 476.2h1V481.2h-1zM33 476.2h1V481.2h-1zM34 476.2h1V481.2h-1zM35 476.2h1V481.2h-1zM36 476.2h1V481.2h-1zM37 478.7h1V492.4h-1zM38 483.8h1V499.7h-1zM39 491.2h1V507.1h-1zM40 498.5h1V514.4h-1zM41 505.9h1V521.8h-1zM42 513.2h1V529.1h-1zM43 520.6h1V536.4h-1zM44 527.9h1V543.8h-1zM45 535.2h1V551.1h-1zM46 542.6h1V556.5h-1zM47 548.8h1V554.0h-1zM48 548.8h1V554.0h-1zM49 548.8h1V554.0h-1zM50 548.8h1V554.0h-1zM51 548.8h1V554.0h-1zM52 548.8h1V554.0h-1zM53 548.8h1V554.0h-1zM54 548.8h1V554.0h-1zM55 548.8h1V554.0h-1zM56 548.8h1V554.0h-1zM57 548.8h1V554.0h-1zM58 548.8h1V554.0h-1zM59 548.8h1V554.0h-1zM60 548.8h1V554.0h-1zM61 548.8h1V554.0h-1zM62 548.8h1V554.0h-1zM63 548.8h1V554.0h-1zM64 548.8h1V554.0h-1zM65 548.8h1V554.0h-1zM66 548.8h1V554.0h-1zM67 548.8h1V554.0h-1zM68 548.8h1V554.0h-1zM69 548.8h1V554.0h-1zM70 548.8h1V554.0h-1zM71 548.8h1V554.0h-1zM72 548.8h1V554.0h-1zM73 548.8h1V554.0h-1zM74 548.8h1V554.0h-1zM75 548.8h1V554.0h-1zM76 548.8h1V554.0h-1zM77 548.8h1V554.0h-1zM78 551.4h1V564.3h-1zM79 556.2h1V571.2h-1zM80 563.1h1V578.1h-1zM81 570.0h1V582.9h-1zM82 580.1h1V584.7h-1zM83 580.1h1V584.7h-1zM84 580.1h1V584.7h-1zM85 580.1h1V584.2h-1zM86 580.1h1V584.7h-1zM87 580.1h1V584.7h-1zM88 580.1h1V584.7h-1zM89 580.1h1V584.7h-1zM90 580.1h1V584.7h-1zM91 580.1h1V584.7h-1zM92 580.1h1V584.7h-1zM93 580.1h1V584.7h-1zM94 580.1h1V584.7h-1zM95 580.1h1V584.7h-1zM96 580.1h1V584.7h-1zM97 580.1h1V584.7h-1zM98 580.1h1V584.7h-1zM99 580.1h1V584.7h-1zM100 580.1h1V584.7h-1zM101 580.1h1V584.7h-1zM102 580.1h1V584.7h-1zM103 580.1h1V584.7h-1zM104 580.1h1V584.7h-1zM105 580.1h1V584.7h-1zM106 580.1h1V584.7h-1zM107 580.1h1V584.7h-1zM108 580.1h1V584.7h-1zM109 580.1h1V584.7h-1zM110 580.1h1V584.7h-1zM111 580.1h1V584.7h-1zM112 580.1h1V584.7h-1zM113 580.1h1V584.7h-1zM114 580.1h1V584.7h-1zM115 578.9h1V584.7h-1zM116 578.8h1V583.6h-1zM117 575.3h1V583.6h-1zM118 575.3h1V580.1h-1zM119 571.8h1V580.1h-1zM120 572.5h1V576.6h-1zM121 568.3h1V576.6h-1zM122 568.3h1V573.1h-1zM123 564.8h1V573.1h-1zM124 564.8h1V569.6h-1zM125 561.4h1V569.6h-1zM126 561.4h1V566.2h-1zM127 557.9h1V566.2h-1zM128 557.9h1V562.7h-1zM129 554.4h1V562.7h-1zM130 554.4h1V559.2h-1zM131 550.9h1V559.2h-1zM132 550.9h1V555.7h-1zM133 549.3h1V555.9h-1zM134 549.3h1V554.5h-1zM135 549.3h1V554.5h-1zM136 549.3h1V554.5h-1zM137 549.3h1V554.5h-1zM138 549.3h1V554.5h-1zM139 549.3h1V554.5h-1zM140 549.3h1V554.5h-1zM141 549.3h1V554.5h-1zM142 549.3h1V554.5h-1zM143 549.3h1V554.5h-1zM144 549.3h1V554.5h-1zM145 549.3h1V554.5h-1zM146 549.3h1V554.5h-1zM147 549.3h1V554.5h-1zM148 549.3h1V554.5h-1zM149 549.3h1V554.5h-1zM150 549.3h1V554.5h-1zM151 549.3h1V554.5h-1zM152 549.3h1V554.5h-1zM153 549.3h1V554.5h-1zM154 549.3h1V554.5h-1zM155 537.4h1V553.1h-1zM156 528.9h1V547.1h-1zM157 520.4h1V538.6h-1zM158 511.9h1V530.1h-1zM159 503.4h1V521.6h-1zM160 494.9h1V513.1h-1zM161 486.4h1V504.6h-1zM162 479.6h1V496.1h-1zM163 476.2h1V481.2h-1zM164 476.2h1V481.2h-1zM165 476.2h1V481.2h-1zM166 476.2h1V481.2h-1zM167 476.2h1V481.2h-1zM168 476.2h1V480.7h-1zM169 476.2h1V480.7h-1zM170 476.2h1V481.2h-1zM171 476.2h1V480.7h-1zM172 476.2h1V481.2h-1zM173 476.2h1V481.2h-1zM174 476.2h1V481.2h-1zM175 476.2h1V481.2h-1zM176 476.2h1V481.2h-1zM177 476.2h1V481.2h-1zM178 476.2h1V481.2h-1zM179 476.2h1V481.2h-1zM180 476.2h1V481.2h-1zM181 476.2h1V481.2h-1zM182 476.2h1V481.2h-1zM183 476.2h1V481.2h-1zM184 476.2h1V481.2h-1zM185 476.2h1V481.2h-1zM186 476.2h1V481.2h-1zM187 476.2h1V481.2h-1zM188 476.2h1V481.2h-1zM189 476.2h1V481.2h-1zM190 476.2h1V481.2h-1zM191 476.2h1V480.7h-1zM192 476.2h1V481.2h-1zM193 476.2h1V481.2h-1zM194 476.2h1V481.2h-1zM195 468.3h1V483.7h-1zM196 460.9h1V476.9h-1zM197 453.4h1V469.5h-1zM198 446.0h1V462.1h-1zM199 438.6h1V454.6h-1zM200 431.1h1V447.2h-1zM201 423.7h1V439.8h-1zM202 416.3h1V432.3h-1zM203 408.9h1V424.9h-1zM204 404.4h1V417.5h-1zM205 401.0h1V407.3h-1zM206 401.0h1V407.3h-1zM207 401.0h1V407.8h-1zM208 401.0h1V407.8h-1zM209 401.0h1V407.8h-1zM210 401.0h1V407.8h-1zM211 401.0h1V407.8h-1zM212 401.0h1V407.8h-1zM213 401.0h1V407.8h-1zM214 401.0h1V407.8h-1zM215 401.0h1V407.8h-1zM216 401.0h1V407.8h-1zM217 401.0h1V407.8h-1zM218 401.0h1V407.8h-1zM219 401.0h1V407.8h-1zM220 401.0h1V407.8h-1zM221 401.0h1V407.8h-1zM222 401.0h1V407.8h-1zM223 401.0h1V407.8h-1zM224 401.0h1V407.8h-1zM225 401.0h1V407.8h-1zM226 401.0h1V407.8h-1zM227 401.0h1V407.8h-1zM228 401.0h1V407.3h-1zM229 401.0h1V407.8h-1zM230 401.0h1V407.8h-1zM231 401.0h1V407.8h-1zM232 401.0h1V407.8h-1zM233 401.0h1V407.8h-1zM234 401.0h1V407.8h-1zM235 401.0h1V407.8h-1zM236 395.3h1V410.3h-1zM237 389.3h1V402.6h-1zM238 383.2h1V396.5h-1zM239 377.1h1V390.5h-1zM240 374.1h1V384.4h-1zM241 370.7h1V377.5h-1zM242 370.7h1V377.5h-1zM243 370.7h1V377.5h-1zM244 370.7h1V377.5h-1zM245 370.7h1V377.0h-1zM246 370.7h1V377.5h-1zM247 370.7h1V377.0h-1zM248 370.7h1V377.5h-1zM249 370.7h1V377.5h-1zM250 370.7h1V377.5h-1zM251 370.7h1V377.5h-1zM252 370.7h1V377.5h-1zM253 370.7h1V377.5h-1zM254 370.7h1V377.5h-1zM255 370.7h1V377.5h-1zM256 370.7h1V377.5h-1zM257 370.7h1V377.5h-1zM258 370.7h1V377.5h-1zM259 370.7h1V377.5h-1zM260 370.7h1V377.5h-1zM261 370.7h1V377.5h-1zM262 370.7h1V377.5h-1zM263 370.7h1V377.5h-1zM264 370.7h1V377.5h-1zM265 370.7h1V377.5h-1zM266 370.7h1V377.5h-1zM267 370.7h1V377.5h-1zM268 370.7h1V377.5h-1zM269 371.4h1V377.5h-1zM270 370.7h1V377.5h-1zM271 370.7h1V377.5h-1zM272 370.7h1V377.5h-1zM273 370.7h1V378.3h-1zM274 371.5h1V378.3h-1zM275 371.5h1V381.4h-1zM276 374.6h1V381.4h-1zM277 374.6h1V384.5h-1zM278 377.7h1V384.5h-1zM279 377.7h1V387.6h-1zM280 381.5h1V387.6h-1zM281 380.8h1V390.7h-1zM282 383.9h1V390.7h-1zM283 383.9h1V393.8h-1zM284 387.0h1V393.8h-1zM285 387.0h1V396.9h-1zM286 390.1h1V396.9h-1zM287 390.1h1V400.0h-1zM288 393.2h1V400.0h-1zM289 393.2h1V403.1h-1zM290 396.3h1V403.1h-1zM291 396.3h1V406.2h-1zM292 399.4h1V406.2h-1zM293 399.4h1V407.8h-1zM294 401.0h1V407.8h-1zM295 401.0h1V407.8h-1zM296 401.0h1V407.8h-1zM297 401.0h1V407.8h-1zM298 401.7h1V407.8h-1zM299 401.0h1V407.8h-1zM300 401.0h1V407.8h-1zM301 401.0h1V407.8h-1zM302 401.0h1V407.8h-1zM303 401.0h1V407.8h-1zM304 401.0h1V407.3h-1zM305 401.0h1V407.8h-1zM306 401.0h1V407.8h-1zM307 401.0h1V407.8h-1zM308 401.0h1V407.8h-1zM309 401.0h1V407.8h-1zM310 401.0h1V407.8h-1zM311 401.0h1V407.8h-1zM312 401.0h1V407.8h-1zM313 401.0h1V407.8h-1zM314 401.0h1V407.8h-1zM315 405.3h1V419.9h-1zM316 409.8h1V428.9h-1zM317 418.7h1V437.8h-1zM318 427.7h1V446.8h-1zM319 436.6h1V455.7h-1zM320 445.6h1V464.7h-1zM321 454.5h1V473.6h-1zM322 463.5h1V479.9h-1zM323 476.2h1V480.7h-1zM324 476.2h1V480.7h-1zM325 476.2h1V481.2h-1zM326 476.2h1V481.2h-1zM327 476.2h1V481.2h-1zM328 476.2h1V481.2h-1zM329 476.2h1V481.2h-1zM330 476.2h1V481.2h-1zM331 476.2h1V481.2h-1zM332 476.2h1V481.2h-1zM333 476.2h1V480.7h-1zM334 476.2h1V480.7h-1zM335 476.2h1V481.2h-1zM336 476.2h1V481.2h-1zM337 476.2h1V481.2h-1zM338 476.2h1V481.2h-1zM339 476.2h1V481.2h-1zM340 476.2h1V481.2h-1zM341 476.2h1V481.2h-1zM342 476.2h1V481.2h-1zM343 476.2h1V481.2h-1zM344 476.2h1V481.2h-1zM345 476.2h1V481.2h-1zM346 476.2h1V481.2h-1zM347 476.2h1V481.2h-1zM348 476.2h1V481.2h-1zM349 476.2h1V481.2h-1zM350 476.2h1V481.2h-1zM351 476.2h1V481.2h-1zM352 476.2h1V481.2h-1zM353 476.2h1V481.2h-1zM354 476.2h1V481.2h-1zM355 474.9h1V488.7h-1zM356 480.2h1V496.1h-1zM357 487.5h1V503.4h-1zM358 494.9h1V510.7h-1zM359 502.2h1V518.1h-1zM360 509.5h1V525.4h-1zM361 516.9h1V532.8h-1zM362 524.2h1V540.1h-1zM363 531.6h1V547.5h-1zM364 538.9h1V552.6h-1zM365 548.8h1V554.0h-1zM366 548.8h1V554.0h-1zM367 548.8h1V554.0h-1zM368 548.8h1V554.0h-1zM369 548.8h1V554.0h-1zM370 548.8h1V554.0h-1zM371 548.8h1V554.0h-1zM372 548.8h1V554.0h-1zM373 548.8h1V554.0h-1zM374 548.8h1V553.5h-1zM375 548.8h1V553.5h-1zM376 548.8h1V553.5h-1zM377 548.8h1V554.0h-1zM378 548.8h1V554.0h-1zM379 548.8h1V554.0h-1zM380 548.8h1V554.0h-1zM381 548.8h1V554.0h-1zM382 548.8h1V554.0h-1zM383 548.8h1V554.0h-1zM384 548.8h1V554.0h-1zM385 548.8h1V554.0h-1zM386 548.8h1V553.5h-1zM387 548.8h1V554.0h-1zM388 548.8h1V554.0h-1zM389 548.8h1V554.0h-1zM390 548.8h1V554.0h-1zM391 548.8h1V554.0h-1zM392 548.8h1V554.0h-1zM393 548.8h1V554.0h-1zM394 548.8h1V554.0h-1zM395 548.8h1V554.0h-1zM396 547.5h1V560.9h-1zM397 552.8h1V567.8h-1zM398 559.7h1V574.6h-1zM399 566.6h1V581.5h-1zM400 573.4h1V587.2h-1zM401 580.1h1V584.7h-1zM402 580.1h1V584.7h-1zM403 580.1h1V584.7h-1zM404 580.1h1V584.7h-1zM405 580.1h1V584.7h-1zM406 580.1h1V584.2h-1zM407 580.1h1V584.2h-1zM408 580.1h1V584.7h-1zM409 580.1h1V584.7h-1zM410 580.1h1V584.7h-1zM411 580.1h1V584.7h-1zM412 580.1h1V584.7h-1zM413 580.1h1V584.7h-1zM414 580.1h1V584.7h-1zM415 580.1h1V584.7h-1zM416 580.1h1V584.7h-1zM417 580.1h1V584.7h-1zM418 580.1h1V584.7h-1zM419 580.1h1V584.7h-1zM420 580.1h1V584.7h-1zM421 580.1h1V584.7h-1zM422 580.1h1V584.7h-1zM423 580.1h1V584.7h-1zM424 580.1h1V584.7h-1zM425 580.1h1V584.7h-1zM426 580.1h1V584.7h-1zM427 580.1h1V584.7h-1zM428 580.1h1V584.7h-1zM429 580.8h1V584.7h-1zM430 580.1h1V584.7h-1zM431 580.1h1V584.7h-1zM432 580.1h1V584.7h-1zM433 579.8h1V584.7h-1zM434 579.7h1V584.5h-1zM435 576.2h1V584.5h-1zM436 576.2h1V581.0h-1zM437 572.7h1V581.0h-1zM438 572.7h1V577.5h-1zM439 569.2h1V577.5h-1zM440 569.2h1V574.0h-1zM441 565.7h1V574.0h-1zM442 565.7h1V570.5h-1zM443 562.2h1V570.5h-1zM444 562.2h1V567.0h-1zM445 558.7h1V567.0h-1zM446 558.7h1V563.5h-1zM447 555.3h1V563.5h-1zM448 555.3h1V560.1h-1zM449 551.8h1V560.1h-1zM450 551.8h1V556.6h-1zM451 549.5h1V556.6h-1zM452 549.3h1V554.5h-1zM453 549.3h1V554.5h-1zM454 549.3h1V554.5h-1zM455 549.3h1V554.5h-1zM456 549.3h1V554.5h-1zM457 549.3h1V554.5h-1zM458 549.3h1V554.0h-1zM459 549.3h1V554.5h-1zM460 549.3h1V554.5h-1zM461 549.3h1V554.5h-1zM462 550.0h1V554.0h-1zM463 549.3h1V554.5h-1zM464 549.3h1V554.5h-1zM465 549.3h1V554.5h-1zM466 549.3h1V554.5h-1zM467 549.3h1V554.5h-1zM468 549.3h1V554.5h-1zM469 549.3h1V554.5h-1zM470 549.3h1V554.5h-1zM471 549.3h1V554.5h-1zM472 549.3h1V554.5h-1zM473 541.7h1V557.0h-1zM474 533.2h1V551.4h-1zM475 524.7h1V542.9h-1zM476 516.2h1V534.4h-1zM477 507.6h1V525.9h-1zM478 499.1h1V517.4h-1zM479 490.6h1V508.8h-1zM480 482.1h1V500.3h-1zM481 474.9h1V491.8h-1zM482 476.2h1V481.2h-1zM483 476.2h1V481.2h-1zM484 476.2h1V481.2h-1zM485 476.2h1V481.2h-1zM486 476.2h1V481.2h-1zM487 476.2h1V481.2h-1zM488 476.2h1V481.2h-1zM489 476.2h1V481.2h-1zM490 476.9h1V481.2h-1zM491 476.2h1V481.2h-1zM492 476.2h1V481.2h-1zM493 476.2h1V481.2h-1zM494 476.2h1V481.2h-1zM495 476.2h1V481.2h-1zM496 476.2h1V481.2h-1zM497 476.2h1V481.2h-1zM498 476.2h1V481.2h-1zM499 476.2h1V481.2h-1zM500 476.2h1V481.2h-1zM501 476.2h1V481.2h-1zM502 476.2h1V481.2h-1zM503 476.2h1V481.2h-1zM504 476.2h1V481.2h-1zM505 476.2h1V481.2h-1zM506 476.2h1V481.2h-1zM507 476.2h1V481.2h-1zM508 476.2h1V481.2h-1zM509 476.2h1V481.2h-1zM510 476.2h1V481.2h-1zM511 476.2h1V481.2h-1zM512 476.2h1V480.7h-1zM513 476.2h1V481.2h-1zM514 464.6h1V479.2h-1zM515 457.2h1V473.2h-1zM516 449.7h1V465.8h-1zM517 442.3h1V458.4h-1zM518 434.9h1V450.9h-1zM519 427.4h1V443.5h-1zM520 420.0h1V436.1h-1zM521 412.6h1V428.6h-1zM522 405.1h1V421.2h-1zM523 399.7h1V413.8h-1zM524 401.0h1V407.8h-1zM525 401.0h1V407.8h-1zM526 401.0h1V407.8h-1zM527 401.0h1V407.8h-1zM528 401.0h1V407.8h-1zM529 401.0h1V407.8h-1zM530 401.0h1V407.8h-1zM531 401.0h1V407.8h-1zM532 401.0h1V407.8h-1zM533 401.0h1V407.8h-1zM534 401.0h1V407.8h-1zM535 401.0h1V407.8h-1zM536 401.0h1V407.8h-1zM537 401.0h1V407.8h-1zM538 401.0h1V407.8h-1zM539 401.0h1V407.8h-1zM540 401.0h1V407.8h-1zM541 401.0h1V407.8h-1zM542 401.0h1V407.8h-1zM543 401.0h1V407.8h-1zM544 401.0h1V407.8h-1zM545 401.0h1V407.3h-1zM546 401.0h1V407.8h-1zM547 401.0h1V407.8h-1zM548 401.0h1V407.3h-1zM549 401.0h1V407.8h-1zM550 401.0h1V407.8h-1zM551 401.0h1V407.8h-1zM552 401.0h1V407.3h-1zM553 401.0h1V407.8h-1zM554 398.3h1V410.3h-1zM555 392.3h1V405.6h-1zM556 386.2h1V399.5h-1zM557 380.2h1V393.5h-1zM558 374.7h1V387.4h-1zM559 370.7h1V377.5h-1zM560 370.7h1V377.5h-1zM561 370.7h1V377.5h-1zM562 370.7h1V377.5h-1zM563 370.7h1V377.5h-1zM564 370.7h1V377.5h-1zM565 370.7h1V377.0h-1zM566 370.7h1V377.5h-1zM567 370.7h1V377.5h-1zM568 370.7h1V377.5h-1zM569 370.7h1V377.5h-1zM570 370.7h1V377.5h-1zM571 370.7h1V377.5h-1zM572 370.7h1V377.5h-1zM573 370.7h1V377.5h-1zM574 370.7h1V377.5h-1zM575 370.7h1V377.0h-1zM576 370.7h1V377.5h-1zM577 370.7h1V377.5h-1zM578 370.7h1V377.5h-1zM579 370.7h1V377.5h-1zM580 370.7h1V377.5h-1zM581 370.7h1V377.5h-1zM582 370.7h1V377.5h-1zM583 370.7h1V377.5h-1zM584 370.7h1V377.5h-1zM585 370.7h1V377.5h-1zM586 370.7h1V377.5h-1zM587 370.7h1V377.5h-1zM588 370.7h1V377.5h-1zM589 370.7h1V377.5h-1zM590 370.7h1V377.5h-1zM591 370.7h1V377.5h-1zM592 370.7h1V377.5h-1zM593 370.7h1V380.6h-1zM594 373.8h1V380.6h-1zM595 373.8h1V383.7h-1zM596 376.9h1V383.7h-1zM597 376.9h1V386.8h-1zM598 380.0h1V386.8h-1zM599 380.0h1V389.9h-1zM600 383.1h1V389.9h-1zM601 383.1h1V393.0h-1zM602 386.2h1V393.0h-1zM603 386.2h1V396.1h-1zM604 389.3h1V395.6h-1zM605 389.3h1V399.3h-1zM606 392.5h1V399.3h-1zM607 392.5h1V402.4h-1zM608 395.6h1V402.4h-1zM609 395.6h1V405.5h-1zM610 398.7h1V405.5h-1zM611 398.7h1V407.8h-1zM612 401.0h1V407.8h-1zM613 401.0h1V407.3h-1zM614 401.0h1V407.8h-1zM615 401.0h1V407.3h-1zM616 401.0h1V407.3h-1zM617 401.0h1V407.8h-1zM618 401.0h1V407.8h-1zM619 401.0h1V407.8h-1zM620 401.0h1V407.8h-1zM621 401.0h1V407.8h-1zM622 401.0h1V407.8h-1zM623 401.0h1V407.8h-1zM624 401.0h1V407.8h-1zM625 401.0h1V407.8h-1zM626 401.0h1V407.8h-1zM627 401.0h1V407.8h-1zM628 401.0h1V407.8h-1zM629 401.0h1V407.8h-1zM630 401.0h1V407.8h-1zM631 401.0h1V407.8h-1zM632 401.0h1V407.8h-1zM633 399.7h1V415.4h-1zM634 405.3h1V424.4h-1zM635 414.2h1V433.4h-1zM636 423.2h1V442.3h-1zM637 432.2h1V451.3h-1zM638 441.1h1V460.2h-1zM639 450.1h1V469.2h-1zM640 459.0h1V478.1h-1zM641 468.0h1V483.7h-1zM642 476.2h1V481.2h-1zM643 476.2h1V481.2h-1zM644 476.2h1V481.2h-1zM645 476.2h1V481.2h-1zM646 476.2h1V481.2h-1zM647 476.2h1V481.2h-1zM648 476.2h1V481.2h-1zM649 476.2h1V481.2h-1zM650 476.2h1V481.2h-1zM651 476.2h1V481.2h-1zM652 476.2h1V481.2h-1zM653 476.2h1V481.2h-1zM654 476.2h1V481.2h-1zM655 476.2h1V481.2h-1zM656 476.2h1V481.2h-1zM657 476.2h1V481.2h-1zM658 476.2h1V481.2h-1zM659 476.2h1V481.2h-1zM660 476.2h1V481.2h-1zM661 476.2h1V481.2h-1zM662 476.2h1V481.2h-1zM663 476.2h1V481.2h-1zM664 476.2h1V481.2h-1zM665 476.2h1V481.2h-1zM666 476.2h1V481.2h-1zM667 476.2h1V481.2h-1zM668 476.2h1V481.2h-1zM669 476.2h1V481.2h-1zM670 476.2h1V481.2h-1zM671 476.2h1V481.2h-1zM672 476.2h1V481.2h-1zM673 476.2h1V481.2h-1zM674 478.7h1V492.4h-1zM675 483.8h1V499.7h-1zM676 491.2h1V507.1h-1zM677 498.5h1V514.4h-1zM678 505.9h1V521.8h-1zM679 513.2h1V529.1h-1zM680 520.6h1V536.4h-1zM681 527.9h1V543.8h-1zM682 535.2h1V551.1h-1zM683 542.6h1V556.5h-1zM684 548.8h1V554.0h-1zM685 548.8h1V554.0h-1zM686 548.8h1V554.0h-1zM687 548.8h1V554.0h-1zM688 548.8h1V554.0h-1zM689 548.8h1V554.0h-1zM690 548.8h1V553.5h-1zM691 548.8h1V554.0h-1zM692 548.8h1V554.0h-1zM693 548.8h1V554.0h-1zM694 548.8h1V554.0h-1zM695 548.8h1V554.0h-1zM696 548.8h1V554.0h-1zM697 548.8h1V554.0h-1zM698 548.8h1V554.0h-1zM699 548.8h1V554.0h-1zM700 548.8h1V554.0h-1zM701 548.8h1V554.0h-1zM702 548.8h1V554.0h-1zM703 548.8h1V554.0h-1zM704 548.8h1V554.0h-1zM705 548.8h1V554.0h-1zM706 548.8h1V554.0h-1zM707 548.8h1V554.0h-1zM708 548.8h1V554.0h-1zM709 548.8h1V554.0h-1zM710 548.8h1V554.0h-1zM711 548.8h1V554.0h-1zM712 548.8h1V554.0h-1zM713 548.8h1V554.0h-1zM714 548.8h1V554.0h-1zM715 551.4h1V564.3h-1zM716 556.2h1V571.2h-1zM717 563.1h1V578.1h-1zM718 570.0h1V582.9h-1zM719 580.1h1V584.7h-1zM720 580.1h1V584.7h-1zM721 580.1h1V584.7h-1zM722 580.1h1V584.7h-1zM723 580.1h1V584.7h-1zM724 580.1h1V584.7h-1zM725 580.1h1V584.2h-1zM726 580.1h1V584.7h-1zM727 580.1h1V584.7h-1zM728 580.1h1V584.7h-1zM729 580.1h1V584.2h-1zM730 580.1h1V584.7h-1zM731 580.1h1V584.7h-1zM732 580.1h1V584.7h-1zM733 580.1h1V584.7h-1zM734 580.1h1V584.7h-1zM735 580.1h1V584.7h-1zM736 580.1h1V584.7h-1zM737 580.1h1V584.7h-1zM738 580.1h1V584.7h-1zM739 580.1h1V584.7h-1zM740 580.1h1V584.2h-1zM741 580.1h1V584.7h-1zM742 580.1h1V584.7h-1zM743 580.1h1V584.7h-1zM744 580.1h1V584.7h-1zM745 580.1h1V584.7h-1zM746 580.1h1V584.7h-1zM747 580.1h1V584.7h-1zM748 580.1h1V584.7h-1zM749 580.1h1V584.7h-1zM750 580.1h1V584.7h-1zM751 580.1h1V584.7h-1zM752 580.1h1V584.7h-1zM753 577.0h1V584.8h-1zM754 577.0h1V581.8h-1zM755 573.6h1V581.8h-1zM756 573.6h1V578.4h-1zM757 570.8h1V578.4h-1zM758 570.1h1V574.9h-1zM759 566.6h1V574.9h-1zM760 566.6h1V571.4h-1zM761 563.1h1V571.4h-1zM762 563.1h1V567.9h-1zM763 559.6h1V567.9h-1zM764 559.6h1V564.4h-1zM765 556.1h1V564.4h-1zM766 556.1h1V560.9h-1zM767 552.6h1V560.9h-1zM768 552.6h1V557.4h-1zM769 549.5h1V557.4h-1zM770 549.3h1V554.5h-1zM771 549.3h1V554.5h-1zM772 549.3h1V554.5h-1zM773 549.3h1V554.5h-1zM774 549.3h1V554.5h-1zM775 549.3h1V554.5h-1zM776 549.3h1V554.5h-1zM777 549.3h1V554.5h-1zM778 549.3h1V554.5h-1zM779 549.3h1V554.5h-1zM780 549.3h1V554.5h-1zM781 549.3h1V554.5h-1zM782 549.3h1V554.5h-1zM783 549.3h1V554.5h-1zM784 549.3h1V554.5h-1zM785 549.3h1V554.5h-1zM786 550.0h1V554.5h-1zM787 549.3h1V554.5h-1zM788 549.3h1V554.5h-1zM789 549.3h1V554.5h-1zM790 549.3h1V554.5h-1zM791 549.3h1V554.5h-1zM792 537.4h1V553.1h-1zM793 528.9h1V547.1h-1zM794 520.4h1V538.6h-1zM795 511.9h1V530.1h-1zM796 503.4h1V521.6h-1zM797 494.9h1V513.1h-1zM798 486.4h1V504.6h-1zM799 478.7h1V496.1h-1zM800 476.2h1V481.2h-1zM801 476.2h1V481.2h-1zM802 476.2h1V481.2h-1zM803 476.2h1V481.2h-1zM804 476.9h1V480.7h-1zM805 476.2h1V481.2h-1zM806 476.2h1V481.2h-1zM807 476.2h1V480.7h-1zM808 476.2h1V481.2h-1zM809 476.2h1V480.7h-1zM810 476.2h1V480.7h-1zM811 476.2h1V481.2h-1zM812 476.2h1V481.2h-1zM813 476.2h1V480.7h-1zM814 476.2h1V481.2h-1zM815 476.2h1V481.2h-1zM816 476.2h1V481.2h-1zM817 476.2h1V481.2h-1zM818 476.2h1V481.2h-1zM819 476.2h1V481.2h-1zM820 476.2h1V481.2h-1zM821 476.2h1V481.2h-1zM822 476.2h1V481.2h-1zM823 476.2h1V481.2h-1zM824 476.2h1V481.2h-1zM825 476.9h1V481.2h-1zM826 476.2h1V481.2h-1zM827 476.2h1V481.2h-1zM828 476.2h1V481.2h-1zM829 476.2h1V481.2h-1zM830 476.2h1V481.2h-1zM831 476.2h1V481.2h-1zM832 468.3h1V483.7h-1zM833 460.9h1V476.9h-1zM834 453.4h1V469.5h-1zM835 446.0h1V462.1h-1zM836 438.6h1V454.6h-1zM837 431.1h1V447.2h-1zM838 423.7h1V439.8h-1zM839 416.3h1V432.3h-1zM840 408.9h1V424.9h-1zM841 404.4h1V417.5h-1zM842 401.0h1V407.8h-1zM843 401.0h1V407.8h-1zM844 401.0h1V407.8h-1zM845 401.0h1V407.8h-1zM846 401.0h1V407.8h-1zM847 401.0h1V407.3h-1zM848 401.0h1V407.8h-1zM849 401.0h1V407.8h-1zM850 401.0h1V407.8h-1zM851 401.0h1V407.8h-1zM852 401.0h1V407.8h-1zM853 401.0h1V407.8h-1zM854 401.0h1V407.8h-1zM855 401.0h1V407.8h-1zM856 401.0h1V407.8h-1zM857 401.0h1V407.8h-1zM858 401.0h1V407.8h-1zM859 401.0h1V407.8h-1zM860 401.0h1V407.8h-1zM861 401.0h1V407.3h-1zM862 401.0h1V407.3h-1zM863 401.0h1V407.8h-1zM864 401.0h1V407.8h-1zM865 401.0h1V407.8h-1zM866 401.0h1V407.8h-1zM867 401.0h1V407.8h-1zM868 401.0h1V407.8h-1zM869 401.0h1V407.8h-1zM870 401.0h1V407.3h-1zM871 401.0h1V407.8h-1zM872 401.0h1V407.8h-1zM873 395.3h1V405.6h-1zM874 389.2h1V402.6h-1zM875 383.2h1V396.5h-1zM876 377.1h1V390.4h-1zM877 369.4h1V384.4h-1zM878 370.7h1V377.5h-1zM879 370.7h1V377.5h-1zM880 370.7h1V377.5h-1zM881 370.7h1V377.5h-1zM882 370.7h1V377.5h-1zM883 370.7h1V377.5h-1zM884 370.7h1V377.5h-1zM885 370.7h1V377.5h-1zM886 370.7h1V377.5h-1zM887 370.7h1V377.5h-1zM888 370.7h1V377.5h-1zM889 370.7h1V377.5h-1zM890 370.7h1V377.5h-1zM891 370.7h1V377.5h-1zM892 370.7h1V377.5h-1zM893 370.7h1V377.5h-1zM894 370.7h1V377.5h-1zM895 370.7h1V377.5h-1zM896 370.7h1V377.5h-1zM897 370.7h1V377.5h-1zM898 370.7h1V377.5h-1zM899 370.7h1V377.5h-1zM900 370.7h1V377.5h-1zM901 370.7h1V377.5h-1zM902 370.7h1V377.5h-1zM903 370.7h1V377.5h-1zM904 370.7h1V377.5h-1zM905 370.7h1V377.5h-1zM906 370.7h1V377.5h-1zM907 370.7h1V377.5h-1zM908 370.7h1V377.0h-1zM909 370.7h1V377.0h-1zM910 370.7h1V377.0h-1zM911 370.7h1V379.8h-1zM912 373.0h1V379.8h-1zM913 373.0h1V382.9h-1zM914 376.1h1V382.9h-1zM915 376.1h1V386.0h-1zM916 379.2h1V386.0h-1zM917 379.2h1V389.2h-1zM918 382.4h1V389.2h-1zM919 382.4h1V392.3h-1zM920 385.5h1V392.3h-1zM921 385.5h1V394.9h-1zM922 388.6h1V394.9h-1zM923 388.6h1V398.5h-1zM924 391.7h1V398.5h-1zM925 391.7h1V401.6h-1zM926 394.8h1V401.6h-1zM927 394.8h1V404.7h-1zM928 397.9h1V404.7h-1zM929 397.9h1V407.8h-1zM930 401.0h1V407.8h-1zM931 401.0h1V407.8h-1zM932 401.0h1V407.8h-1zM933 401.0h1V407.3h-1zM934 401.0h1V407.8h-1zM935 401.0h1V407.8h-1zM936 401.0h1V407.8h-1zM937 401.0h1V407.8h-1zM938 401.7h1V407.8h-1zM939 401.0h1V407.8h-1zM940 401.0h1V407.3h-1zM941 401.0h1V407.8h-1zM942 401.0h1V407.8h-1zM943 401.0h1V407.3h-1zM944 401.0h1V407.8h-1zM945 401.0h1V407.8h-1zM946 401.0h1V407.8h-1zM947 401.0h1V407.8h-1zM948 401.0h1V407.8h-1zM949 401.0h1V407.8h-1zM950 401.0h1V407.8h-1zM951 401.0h1V407.8h-1zM952 405.3h1V419.9h-1zM953 409.8h1V428.9h-1zM954 418.7h1V437.8h-1zM955 427.7h1V446.8h-1zM956 436.6h1V455.7h-1zM957 445.6h1V464.7h-1zM958 454.5h1V473.6h-1zM959 463.5h1V479.0h-1zM960 476.2h1V481.2h-1zM961 476.2h1V481.2h-1zM962 476.2h1V481.2h-1zM963 476.2h1V481.2h-1zM964 476.2h1V481.2h-1zM965 476.2h1V480.7h-1zM966 476.2h1V480.7h-1zM967 476.2h1V481.2h-1zM968 476.2h1V481.2h-1zM969 476.2h1V481.2h-1zM970 476.2h1V480.7h-1zM971 476.2h1V481.2h-1zM972 476.2h1V481.2h-1zM973 476.2h1V481.2h-1zM974 476.2h1V480.7h-1zM975 476.2h1V481.2h-1zM976 476.2h1V481.2h-1zM977 476.2h1V481.2h-1zM978 476.2h1V481.2h-1zM979 476.2h1V481.2h-1zM980 476.2h1V481.2h-1zM981 476.2h1V481.2h-1zM982 476.2h1V481.2h-1zM983 476.2h1V481.2h-1zM984 476.2h1V480.7h-1zM985 476.2h1V480.7h-1zM986 476.9h1V481.2h-1zM987 476.2h1V481.2h-1zM988 476.2h1V481.2h-1zM989 476.2h1V480.7h-1zM990 476.2h1V481.2h-1zM991 476.2h1V481.2h-1zM992 474.9h1V488.7h-1zM993 480.2h1V496.1h-1zM994 487.5h1V503.4h-1zM995 494.9h1V510.7h-1zM996 502.2h1V518.1h-1zM997 509.5h1V525.4h-1zM998 516.9h1V532.8h-1zM999 524.2h1V540.1h-1zM1000 531.6h1V547.5h-1zM1001 538.9h1V551.9h-1zM1002 548.8h1V554.0h-1zM1003 548.8h1V554.0h-1zM1004 548.8h1V554.0h-1zM1005 548.8h1V554.0h-1zM1006 548.8h1V554.0h-1zM1007 548.8h1V553.5h-1zM1008 548.8h1V554.0h-1zM1009 548.8h1V554.0h-1zM1010 548.8h1V554.0h-1zM1011 548.8h1V554.0h-1zM1012 548.8h1V554.0h-1zM1013 548.8h1V554.0h-1zM1014 548.8h1V554.0h-1zM1015 548.8h1V554.0h-1z"/>
<!-- trigger position marker -->
<path d="M512 36H522L517 45.5Z" fill="#ffa500"/>
<!-- trigger level marker -->
<path d="M1004 444.5H1018V445.7H1004Z" fill="#ff00ff"/>
<path d="M995.5 445.2L1004 440.5V450Z" fill="#ff00ff"/>
<!-- channel 4 marker -->
<path d="M18 223.2H23.5V226H18Z" fill="#00f000"/>
<path d="M23 219.8L30.5 224.6L23 229.5Z" fill="#00f000"/>
<circle cx="10.6" cy="224.5" r="8.8" fill="#00f000" stroke="#ff9a00" stroke-width="2"/>
<text x="10.6" y="228.6" text-anchor="middle" font-size="12" fill="#000">4</text>
<!-- channel 3 marker -->
<path d="M18 476.6H24V479.4H18Z" fill="#ff00ff"/>
<path d="M23 473L30.8 477.8L23 482.8Z" fill="#ff00ff"/>
<path d="M30.4 478.2L23.6 482.6M23.4 479.6V483" fill="none" stroke="#fff" stroke-width="0.8" stroke-dasharray="1 0.9"/>
<circle cx="10.3" cy="478" r="8.6" fill="#ff00ff" stroke="#a8a8a8" stroke-width="2"/>
<text x="10.3" y="482.2" text-anchor="middle" font-size="12" fill="#000">3</text>
<!-- labels -->
<text x="33.3" y="100" font-size="33" font-weight="bold" fill="#00ff00">I</text>
<text transform="translate(0 103) scale(1 1.045) translate(0 -103)" x="41.6 57.8 72.9 84.7" y="103" font-size="21" font-weight="bold" fill="#00ff00" stroke="#00ff00" stroke-width="0.3">OUTC<tspan x="101.1" font-family="NanumGothic,'Liberation Sans',sans-serif" font-weight="800" font-size="19.2">1</tspan></text>
<text x="33.3" y="415" font-size="33" font-weight="bold" fill="#ff00ff">I</text>
<text transform="translate(0 418) scale(1 1.045) translate(0 -418)" x="41.6 57.8 72.9 84.7 99.8" y="418" font-size="21" font-weight="bold" fill="#ff00ff" stroke="#ff00ff" stroke-width="0.3">OUTC2</text>
<!-- bottom left box -->
<rect x="21.5" y="674.5" width="280" height="46" rx="6" fill="#fff" stroke="#000" stroke-width="1.3"/>
<rect x="29.3" y="681" width="33.6" height="15.4" rx="7.7" fill="url(#ring)"/>
<rect x="31" y="683.3" width="30.4" height="11.2" rx="5.6" fill="url(#mg)"/>
<text x="39.6" y="692" font-size="9.6" letter-spacing="0.4" fill="#000">C3</text>
<rect x="29.3" y="702" width="33.6" height="15.4" rx="7.7" fill="url(#ring)"/>
<rect x="31" y="704.3" width="30.4" height="11.2" rx="5.6" fill="url(#gg)"/>
<text x="39.6" y="713" font-size="9.6" letter-spacing="0.4" fill="#000">C4</text>
<text class="b" x="67" y="691">500mA/div</text>
<text class="b" x="67" y="712">500mA/div</text>
<text class="b" x="182.5" y="691">1MΩ</text>
<text class="b" x="182.5" y="712">1MΩ</text>
<text x="215" y="686.5" font-size="8" font-weight="bold" fill="#111">B</text>
<text x="221.2" y="694.6" font-size="10" font-weight="bold" fill="#111">W</text>
<text class="b" x="229.5" y="691">:20.0M</text>
<text x="215" y="707.5" font-size="8" font-weight="bold" fill="#111">B</text>
<text x="221.2" y="715.6" font-size="10" font-weight="bold" fill="#111">W</text>
<text class="b" x="229.5" y="712">:20.0M</text>
<!-- trigger box -->
<rect x="591.5" y="674.5" width="184.5" height="23" rx="6" fill="#fff" stroke="#000" stroke-width="1.3"/>
<rect x="597.5" y="681.5" width="15" height="14" fill="#c8c8c8" stroke="#ff9a00" stroke-width="1"/>
<text x="598.8" y="691" font-size="11" font-weight="bold" fill="#111">A'</text>
<rect x="614.3" y="680.8" width="33.4" height="15.4" rx="7.7" fill="url(#ring)"/>
<rect x="616" y="683.1" width="30" height="11.2" rx="5.6" fill="url(#mg)"/>
<text x="624.4" y="692" font-size="9.6" letter-spacing="0.4" fill="#000">C3</text>
<path d="M651.5 693.3H655.5L660 682.8H664" fill="none" stroke="#000" stroke-width="1.4"/>
<text class="b" x="667" y="692">260mA</text>
<!-- right box -->
<rect x="781.5" y="674.5" width="230" height="92" rx="6" fill="#fff" stroke="#000" stroke-width="1.3"/>
<text class="b" x="789" y="691">5.0ms/div</text>
<text class="b" x="854" y="691">2.0MS/s</text>
<text class="b" x="939" y="691">500ns/pt</text>
<text class="b" x="789" y="712">Run</text>
<text class="b" x="876.5" y="712">Sample</text>
<rect x="993" y="701.8" width="3" height="13" rx="1.2" fill="#000"/>
<circle cx="994.5" cy="715.4" r="3.1" fill="#000"/>
<text class="b" x="789" y="733">789 acqs</text>
<text class="b" x="929" y="733">RL:100k</text>
<text class="b" x="789" y="754">Auto</text>
<text class="b" x="831.5" y="754">November 24, 2015</text>
<text class="b" x="956" y="754">15:27:56</text>
</svg>
</body></html>
